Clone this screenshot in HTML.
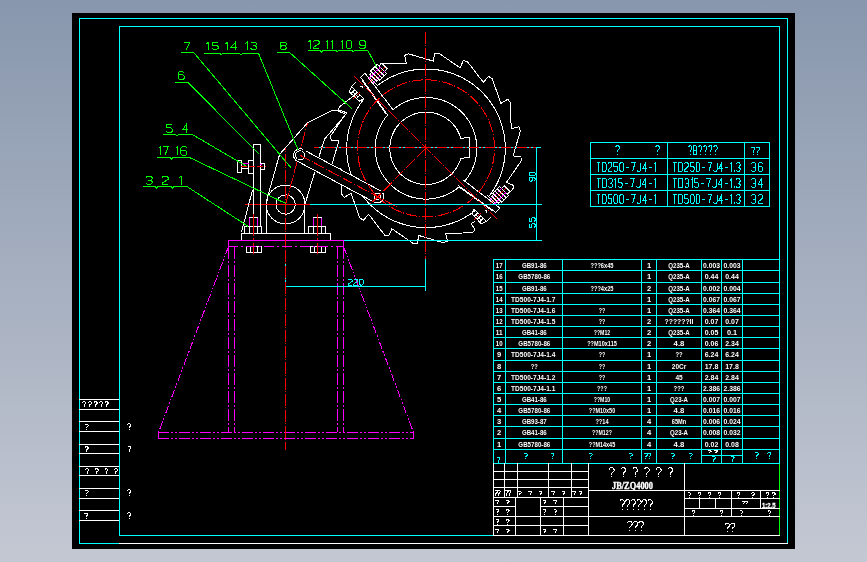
<!DOCTYPE html>
<html><head><meta charset="utf-8"><title>drawing</title>
<style>
html,body{margin:0;padding:0;}
body{width:867px;height:562px;overflow:hidden;background:linear-gradient(to bottom,#8897ad 0%,#c4c8d3 100%);}
svg{display:block;position:absolute;left:0;top:0;will-change:transform;}
text{font-family:"Liberation Sans",sans-serif;}
.sf{font-family:"Liberation Serif",serif;}
</style></head><body>
<svg width="867" height="562" viewBox="0 0 867 562" shape-rendering="crispEdges" stroke-width="1" fill="none">
<rect x="72" y="13" width="723" height="535.6" fill="#000" stroke="none"/>
<line x1="79.00" y1="18.50" x2="788.00" y2="18.50" stroke="#00ffff" />
<line x1="79.50" y1="18.00" x2="79.50" y2="544.00" stroke="#00ffff" />
<line x1="787.50" y1="18.00" x2="787.50" y2="544.00" stroke="#00ffff" />
<line x1="79.00" y1="543.50" x2="119.00" y2="543.50" stroke="#00ffff" />
<line x1="119.00" y1="543.50" x2="788.00" y2="543.50" stroke="#ffffff" />
<line x1="119.00" y1="26.50" x2="780.00" y2="26.50" stroke="#00ffff" />
<line x1="119.50" y1="26.00" x2="119.50" y2="536.00" stroke="#00ffff" />
<line x1="779.50" y1="26.00" x2="779.50" y2="463.00" stroke="#00ffff" />
<line x1="779.50" y1="463.00" x2="779.50" y2="536.00" stroke="#00ff00" />
<line x1="119.00" y1="535.50" x2="493.00" y2="535.50" stroke="#00ffff" />
<line x1="493.00" y1="535.50" x2="780.00" y2="535.50" stroke="#ffffff" />
<line x1="79.00" y1="399.50" x2="119.00" y2="399.50" stroke="#ffffff" />
<line x1="79.00" y1="409.50" x2="119.00" y2="409.50" stroke="#ffffff" />
<line x1="79.00" y1="421.50" x2="119.00" y2="421.50" stroke="#ffffff" />
<line x1="79.00" y1="431.50" x2="119.00" y2="431.50" stroke="#ffffff" />
<line x1="79.00" y1="444.50" x2="119.00" y2="444.50" stroke="#ffffff" />
<line x1="79.00" y1="453.50" x2="119.00" y2="453.50" stroke="#ffffff" />
<line x1="79.00" y1="466.50" x2="119.00" y2="466.50" stroke="#ffffff" />
<line x1="79.00" y1="475.50" x2="119.00" y2="475.50" stroke="#ffffff" />
<line x1="79.00" y1="488.50" x2="119.00" y2="488.50" stroke="#ffffff" />
<line x1="79.00" y1="498.50" x2="119.00" y2="498.50" stroke="#ffffff" />
<line x1="79.00" y1="510.50" x2="119.00" y2="510.50" stroke="#ffffff" />
<line x1="79.00" y1="520.50" x2="119.00" y2="520.50" stroke="#ffffff" />
<polyline points="82.50,402.67 83.35,401.80 85.05,401.80 85.90,402.67 85.90,403.53 84.20,404.83 84.20,405.61" stroke="#ffffff" fill="none" />
<polyline points="84.20,406.48 84.20,407.00" stroke="#ffffff" fill="none" />
<polyline points="88.10,402.67 88.95,401.80 90.65,401.80 91.50,402.67 91.50,403.53 89.80,404.83 89.80,405.61" stroke="#ffffff" fill="none" />
<polyline points="89.80,406.48 89.80,407.00" stroke="#ffffff" fill="none" />
<polyline points="93.70,402.67 94.55,401.80 96.25,401.80 97.10,402.67 97.10,403.53 95.40,404.83 95.40,405.61" stroke="#ffffff" fill="none" />
<polyline points="95.40,406.48 95.40,407.00" stroke="#ffffff" fill="none" />
<polyline points="99.30,402.67 100.15,401.80 101.85,401.80 102.70,402.67 102.70,403.53 101.00,404.83 101.00,405.61" stroke="#ffffff" fill="none" />
<polyline points="101.00,406.48 101.00,407.00" stroke="#ffffff" fill="none" />
<polyline points="104.90,402.67 105.75,401.80 107.45,401.80 108.30,402.67 108.30,403.53 106.60,404.83 106.60,405.61" stroke="#ffffff" fill="none" />
<polyline points="106.60,406.48 106.60,407.00" stroke="#ffffff" fill="none" />
<polyline points="85.00,425.17 85.75,424.30 87.25,424.30 88.00,425.17 88.00,426.03 86.50,427.33 86.50,428.11" stroke="#ffffff" fill="none" />
<polyline points="86.50,428.98 86.50,429.50" stroke="#ffffff" fill="none" />
<polyline points="85.00,447.67 85.75,446.80 87.25,446.80 88.00,447.67 88.00,448.53 86.50,449.83 86.50,450.61" stroke="#ffffff" fill="none" />
<polyline points="86.50,451.48 86.50,452.00" stroke="#ffffff" fill="none" />
<polyline points="85.00,491.17 85.75,490.30 87.25,490.30 88.00,491.17 88.00,492.03 86.50,493.33 86.50,494.11" stroke="#ffffff" fill="none" />
<polyline points="86.50,494.98 86.50,495.50" stroke="#ffffff" fill="none" />
<polyline points="84.50,514.17 85.25,513.30 86.75,513.30 87.50,514.17 87.50,515.03 86.00,516.33 86.00,517.11" stroke="#ffffff" fill="none" />
<polyline points="86.00,517.98 86.00,518.50" stroke="#ffffff" fill="none" />
<polyline points="85.50,469.67 86.30,468.80 87.90,468.80 88.70,469.67 88.70,470.53 87.10,471.83 87.10,472.61" stroke="#ffffff" fill="none" />
<polyline points="87.10,473.48 87.10,474.00" stroke="#ffffff" fill="none" />
<polyline points="95.10,469.67 95.90,468.80 97.50,468.80 98.30,469.67 98.30,470.53 96.70,471.83 96.70,472.61" stroke="#ffffff" fill="none" />
<polyline points="96.70,473.48 96.70,474.00" stroke="#ffffff" fill="none" />
<polyline points="104.70,469.67 105.50,468.80 107.10,468.80 107.90,469.67 107.90,470.53 106.30,471.83 106.30,472.61" stroke="#ffffff" fill="none" />
<polyline points="106.30,473.48 106.30,474.00" stroke="#ffffff" fill="none" />
<polyline points="114.30,469.67 115.10,468.80 116.70,468.80 117.50,469.67 117.50,470.53 115.90,471.83 115.90,472.61" stroke="#ffffff" fill="none" />
<polyline points="115.90,473.48 115.90,474.00" stroke="#ffffff" fill="none" />
<polyline points="127.50,424.83 128.30,423.90 129.90,423.90 130.70,424.83 130.70,425.77 129.10,427.17 129.10,428.01" stroke="#ffffff" fill="none" />
<polyline points="129.10,428.94 129.10,429.50" stroke="#ffffff" fill="none" />
<polyline points="127.50,447.33 128.30,446.40 129.90,446.40 130.70,447.33 130.70,448.27 129.10,449.67 129.10,450.51" stroke="#ffffff" fill="none" />
<polyline points="129.10,451.44 129.10,452.00" stroke="#ffffff" fill="none" />
<polyline points="127.50,490.83 128.30,489.90 129.90,489.90 130.70,490.83 130.70,491.77 129.10,493.17 129.10,494.01" stroke="#ffffff" fill="none" />
<polyline points="129.10,494.94 129.10,495.50" stroke="#ffffff" fill="none" />
<polyline points="127.50,513.83 128.30,512.90 129.90,512.90 130.70,513.83 130.70,514.77 129.10,516.17 129.10,517.01" stroke="#ffffff" fill="none" />
<polyline points="129.10,517.94 129.10,518.50" stroke="#ffffff" fill="none" />
<line x1="590.00" y1="142.50" x2="770.00" y2="142.50" stroke="#00ffff" />
<line x1="590.00" y1="158.50" x2="770.00" y2="158.50" stroke="#00ffff" />
<line x1="590.00" y1="174.50" x2="770.00" y2="174.50" stroke="#00ffff" />
<line x1="590.00" y1="190.50" x2="770.00" y2="190.50" stroke="#00ffff" />
<line x1="590.00" y1="206.50" x2="770.00" y2="206.50" stroke="#00ffff" />
<line x1="590.50" y1="142.00" x2="590.50" y2="207.00" stroke="#00ffff" />
<line x1="667.50" y1="142.00" x2="667.50" y2="207.00" stroke="#00ffff" />
<line x1="744.50" y1="142.00" x2="744.50" y2="207.00" stroke="#00ffff" />
<line x1="769.50" y1="142.00" x2="769.50" y2="207.00" stroke="#00ffff" />
<polyline points="615.50,147.25 616.50,145.80 618.50,145.80 619.50,147.25 619.50,148.70 617.50,150.88 617.50,152.18" stroke="#00ffff" fill="none" />
<polyline points="617.50,153.63 617.50,154.50" stroke="#00ffff" fill="none" />
<polyline points="655.50,147.25 656.50,145.80 658.50,145.80 659.50,147.25 659.50,148.70 657.50,150.88 657.50,152.18" stroke="#00ffff" fill="none" />
<polyline points="657.50,153.63 657.50,154.50" stroke="#00ffff" fill="none" />
<polyline points="688.50,147.25 689.34,145.80 691.01,145.80 691.85,147.25 691.85,148.70 690.18,150.88 690.18,152.18" stroke="#00ffff" fill="none" />
<polyline points="690.18,153.63 690.18,154.50" stroke="#00ffff" fill="none" />
<polyline points="693.53,154.50 693.53,145.80 696.04,145.80 696.88,147.25 696.88,148.70 696.04,150.15 693.53,150.15" stroke="#00ffff" fill="none" />
<polyline points="696.04,150.15 696.88,151.60 696.88,153.05 696.04,154.50 693.53,154.50" stroke="#00ffff" fill="none" />
<polyline points="698.56,147.25 699.40,145.80 701.07,145.80 701.91,147.25 701.91,148.70 700.24,150.88 700.24,152.18" stroke="#00ffff" fill="none" />
<polyline points="700.24,153.63 700.24,154.50" stroke="#00ffff" fill="none" />
<polyline points="703.59,147.25 704.43,145.80 706.10,145.80 706.94,147.25 706.94,148.70 705.26,150.88 705.26,152.18" stroke="#00ffff" fill="none" />
<polyline points="705.26,153.63 705.26,154.50" stroke="#00ffff" fill="none" />
<polyline points="708.62,147.25 709.46,145.80 711.13,145.80 711.97,147.25 711.97,148.70 710.29,150.88 710.29,152.18" stroke="#00ffff" fill="none" />
<polyline points="710.29,153.63 710.29,154.50" stroke="#00ffff" fill="none" />
<polyline points="713.65,147.25 714.49,145.80 716.16,145.80 717.00,147.25 717.00,148.70 715.32,150.88 715.32,152.18" stroke="#00ffff" fill="none" />
<polyline points="715.32,153.63 715.32,154.50" stroke="#00ffff" fill="none" />
<polyline points="751.50,148.25 752.30,147.00 753.90,147.00 754.70,148.25 754.70,149.50 753.10,151.38 753.10,152.50" stroke="#00ffff" fill="none" />
<polyline points="753.10,153.75 753.10,154.50" stroke="#00ffff" fill="none" />
<polyline points="756.30,148.25 757.10,147.00 758.70,147.00 759.50,148.25 759.50,149.50 757.90,151.38 757.90,152.50" stroke="#00ffff" fill="none" />
<polyline points="757.90,153.75 757.90,154.50" stroke="#00ffff" fill="none" />
<polyline points="596.50,162.50 600.36,162.50" stroke="#00ffff" fill="none" />
<polyline points="598.43,162.50 598.43,171.50" stroke="#00ffff" fill="none" />
<polyline points="602.29,171.50 602.29,162.50 605.18,162.50 606.14,164.00 606.14,170.00 605.18,171.50 602.29,171.50" stroke="#00ffff" fill="none" />
<polyline points="608.07,164.00 609.04,162.50 610.97,162.50 611.93,164.00 611.93,166.10 608.07,170.00 608.07,171.50 611.93,171.50" stroke="#00ffff" fill="none" />
<polyline points="617.72,162.50 613.86,162.50 613.86,166.25 616.75,166.25 617.72,167.75 617.72,170.00 616.75,171.50 614.82,171.50 613.86,170.00" stroke="#00ffff" fill="none" />
<polyline points="619.64,170.00 619.64,164.00 620.61,162.50 622.54,162.50 623.50,164.00 623.50,170.00 622.54,171.50 620.61,171.50 619.64,170.00" stroke="#00ffff" fill="none" />
<polyline points="625.72,167.00 629.00,167.00" stroke="#00ffff" fill="none" />
<polyline points="631.22,162.50 635.07,162.50 632.66,171.50" stroke="#00ffff" fill="none" />
<polyline points="640.86,162.50 640.86,170.00 639.90,171.50 637.97,171.50 637.00,170.00" stroke="#00ffff" fill="none" />
<polyline points="645.68,171.50 645.68,162.50 642.79,168.50 646.65,168.50" stroke="#00ffff" fill="none" />
<polyline points="648.86,167.00 652.14,167.00" stroke="#00ffff" fill="none" />
<polyline points="654.36,164.30 655.71,162.50 655.71,171.50" stroke="#00ffff" fill="none" />
<polyline points="673.00,162.50 676.83,162.50" stroke="#00ffff" fill="none" />
<polyline points="674.92,162.50 674.92,171.50" stroke="#00ffff" fill="none" />
<polyline points="678.75,171.50 678.75,162.50 681.63,162.50 682.59,164.00 682.59,170.00 681.63,171.50 678.75,171.50" stroke="#00ffff" fill="none" />
<polyline points="684.50,164.00 685.46,162.50 687.38,162.50 688.34,164.00 688.34,166.10 684.50,170.00 684.50,171.50 688.34,171.50" stroke="#00ffff" fill="none" />
<polyline points="694.09,162.50 690.25,162.50 690.25,166.25 693.13,166.25 694.09,167.75 694.09,170.00 693.13,171.50 691.21,171.50 690.25,170.00" stroke="#00ffff" fill="none" />
<polyline points="696.00,170.00 696.00,164.00 696.96,162.50 698.88,162.50 699.84,164.00 699.84,170.00 698.88,171.50 696.96,171.50 696.00,170.00" stroke="#00ffff" fill="none" />
<polyline points="702.04,167.00 705.30,167.00" stroke="#00ffff" fill="none" />
<polyline points="707.51,162.50 711.34,162.50 708.94,171.50" stroke="#00ffff" fill="none" />
<polyline points="717.09,162.50 717.09,170.00 716.13,171.50 714.22,171.50 713.26,170.00" stroke="#00ffff" fill="none" />
<polyline points="721.88,171.50 721.88,162.50 719.01,168.50 722.84,168.50" stroke="#00ffff" fill="none" />
<polyline points="725.05,167.00 728.31,167.00" stroke="#00ffff" fill="none" />
<polyline points="730.51,164.30 731.85,162.50 731.85,171.50" stroke="#00ffff" fill="none" />
<polyline points="734.34,171.50 734.34,170.45" stroke="#00ffff" fill="none" />
<polyline points="736.17,164.00 737.12,162.50 739.04,162.50 740.00,164.00 740.00,165.50 739.04,167.00 737.60,167.00" stroke="#00ffff" fill="none" />
<polyline points="739.04,167.00 740.00,168.50 740.00,170.00 739.04,171.50 737.12,171.50 736.17,170.00" stroke="#00ffff" fill="none" />
<polyline points="751.50,164.00 752.60,162.50 754.80,162.50 755.90,164.00 755.90,165.50 754.80,167.00 753.15,167.00" stroke="#00ffff" fill="none" />
<polyline points="754.80,167.00 755.90,168.50 755.90,170.00 754.80,171.50 752.60,171.50 751.50,170.00" stroke="#00ffff" fill="none" />
<polyline points="762.50,164.00 761.40,162.50 759.20,162.50 758.10,164.00 758.10,170.00 759.20,171.50 761.40,171.50 762.50,170.00 762.50,167.75 761.40,166.25 758.10,166.25" stroke="#00ffff" fill="none" />
<polyline points="596.50,178.50 600.51,178.50" stroke="#00ffff" fill="none" />
<polyline points="598.50,178.50 598.50,187.50" stroke="#00ffff" fill="none" />
<polyline points="602.51,187.50 602.51,178.50 605.52,178.50 606.52,180.00 606.52,186.00 605.52,187.50 602.51,187.50" stroke="#00ffff" fill="none" />
<polyline points="608.52,180.00 609.52,178.50 611.53,178.50 612.53,180.00 612.53,181.50 611.53,183.00 610.02,183.00" stroke="#00ffff" fill="none" />
<polyline points="611.53,183.00 612.53,184.50 612.53,186.00 611.53,187.50 609.52,187.50 608.52,186.00" stroke="#00ffff" fill="none" />
<polyline points="614.53,180.30 615.93,178.50 615.93,187.50" stroke="#00ffff" fill="none" />
<polyline points="622.24,178.50 618.24,178.50 618.24,182.25 621.24,182.25 622.24,183.75 622.24,186.00 621.24,187.50 619.24,187.50 618.24,186.00" stroke="#00ffff" fill="none" />
<polyline points="624.55,183.00 627.95,183.00" stroke="#00ffff" fill="none" />
<polyline points="630.26,178.50 634.26,178.50 631.76,187.50" stroke="#00ffff" fill="none" />
<polyline points="640.27,178.50 640.27,186.00 639.27,187.50 637.27,187.50 636.27,186.00" stroke="#00ffff" fill="none" />
<polyline points="645.28,187.50 645.28,178.50 642.28,184.50 646.28,184.50" stroke="#00ffff" fill="none" />
<polyline points="648.59,183.00 651.99,183.00" stroke="#00ffff" fill="none" />
<polyline points="654.30,180.30 655.70,178.50 655.70,187.50" stroke="#00ffff" fill="none" />
<polyline points="673.00,178.50 676.96,178.50" stroke="#00ffff" fill="none" />
<polyline points="674.98,178.50 674.98,187.50" stroke="#00ffff" fill="none" />
<polyline points="678.95,187.50 678.95,178.50 681.92,178.50 682.91,180.00 682.91,186.00 681.92,187.50 678.95,187.50" stroke="#00ffff" fill="none" />
<polyline points="684.89,180.00 685.88,178.50 687.87,178.50 688.86,180.00 688.86,181.50 687.87,183.00 686.38,183.00" stroke="#00ffff" fill="none" />
<polyline points="687.87,183.00 688.86,184.50 688.86,186.00 687.87,187.50 685.88,187.50 684.89,186.00" stroke="#00ffff" fill="none" />
<polyline points="690.84,180.30 692.23,178.50 692.23,187.50" stroke="#00ffff" fill="none" />
<polyline points="698.47,178.50 694.51,178.50 694.51,182.25 697.48,182.25 698.47,183.75 698.47,186.00 697.48,187.50 695.50,187.50 694.51,186.00" stroke="#00ffff" fill="none" />
<polyline points="700.75,183.00 704.12,183.00" stroke="#00ffff" fill="none" />
<polyline points="706.40,178.50 710.37,178.50 707.89,187.50" stroke="#00ffff" fill="none" />
<polyline points="716.31,178.50 716.31,186.00 715.32,187.50 713.34,187.50 712.35,186.00" stroke="#00ffff" fill="none" />
<polyline points="721.27,187.50 721.27,178.50 718.29,184.50 722.26,184.50" stroke="#00ffff" fill="none" />
<polyline points="724.54,183.00 727.91,183.00" stroke="#00ffff" fill="none" />
<polyline points="730.19,180.30 731.58,178.50 731.58,187.50" stroke="#00ffff" fill="none" />
<polyline points="734.15,187.50 734.15,186.45" stroke="#00ffff" fill="none" />
<polyline points="736.04,180.00 737.03,178.50 739.01,178.50 740.00,180.00 740.00,181.50 739.01,183.00 737.52,183.00" stroke="#00ffff" fill="none" />
<polyline points="739.01,183.00 740.00,184.50 740.00,186.00 739.01,187.50 737.03,187.50 736.04,186.00" stroke="#00ffff" fill="none" />
<polyline points="751.50,180.00 752.60,178.50 754.80,178.50 755.90,180.00 755.90,181.50 754.80,183.00 753.15,183.00" stroke="#00ffff" fill="none" />
<polyline points="754.80,183.00 755.90,184.50 755.90,186.00 754.80,187.50 752.60,187.50 751.50,186.00" stroke="#00ffff" fill="none" />
<polyline points="761.40,187.50 761.40,178.50 758.10,184.50 762.50,184.50" stroke="#00ffff" fill="none" />
<polyline points="596.50,194.50 600.36,194.50" stroke="#00ffff" fill="none" />
<polyline points="598.43,194.50 598.43,203.50" stroke="#00ffff" fill="none" />
<polyline points="602.29,203.50 602.29,194.50 605.18,194.50 606.14,196.00 606.14,202.00 605.18,203.50 602.29,203.50" stroke="#00ffff" fill="none" />
<polyline points="611.93,194.50 608.07,194.50 608.07,198.25 610.97,198.25 611.93,199.75 611.93,202.00 610.97,203.50 609.04,203.50 608.07,202.00" stroke="#00ffff" fill="none" />
<polyline points="613.86,202.00 613.86,196.00 614.82,194.50 616.75,194.50 617.72,196.00 617.72,202.00 616.75,203.50 614.82,203.50 613.86,202.00" stroke="#00ffff" fill="none" />
<polyline points="619.64,202.00 619.64,196.00 620.61,194.50 622.54,194.50 623.50,196.00 623.50,202.00 622.54,203.50 620.61,203.50 619.64,202.00" stroke="#00ffff" fill="none" />
<polyline points="625.72,199.00 629.00,199.00" stroke="#00ffff" fill="none" />
<polyline points="631.22,194.50 635.07,194.50 632.66,203.50" stroke="#00ffff" fill="none" />
<polyline points="640.86,194.50 640.86,202.00 639.90,203.50 637.97,203.50 637.00,202.00" stroke="#00ffff" fill="none" />
<polyline points="645.68,203.50 645.68,194.50 642.79,200.50 646.65,200.50" stroke="#00ffff" fill="none" />
<polyline points="648.86,199.00 652.14,199.00" stroke="#00ffff" fill="none" />
<polyline points="654.36,196.30 655.71,194.50 655.71,203.50" stroke="#00ffff" fill="none" />
<polyline points="673.00,194.50 676.83,194.50" stroke="#00ffff" fill="none" />
<polyline points="674.92,194.50 674.92,203.50" stroke="#00ffff" fill="none" />
<polyline points="678.75,203.50 678.75,194.50 681.63,194.50 682.59,196.00 682.59,202.00 681.63,203.50 678.75,203.50" stroke="#00ffff" fill="none" />
<polyline points="688.34,194.50 684.50,194.50 684.50,198.25 687.38,198.25 688.34,199.75 688.34,202.00 687.38,203.50 685.46,203.50 684.50,202.00" stroke="#00ffff" fill="none" />
<polyline points="690.25,202.00 690.25,196.00 691.21,194.50 693.13,194.50 694.09,196.00 694.09,202.00 693.13,203.50 691.21,203.50 690.25,202.00" stroke="#00ffff" fill="none" />
<polyline points="696.00,202.00 696.00,196.00 696.96,194.50 698.88,194.50 699.84,196.00 699.84,202.00 698.88,203.50 696.96,203.50 696.00,202.00" stroke="#00ffff" fill="none" />
<polyline points="702.04,199.00 705.30,199.00" stroke="#00ffff" fill="none" />
<polyline points="707.51,194.50 711.34,194.50 708.94,203.50" stroke="#00ffff" fill="none" />
<polyline points="717.09,194.50 717.09,202.00 716.13,203.50 714.22,203.50 713.26,202.00" stroke="#00ffff" fill="none" />
<polyline points="721.88,203.50 721.88,194.50 719.01,200.50 722.84,200.50" stroke="#00ffff" fill="none" />
<polyline points="725.05,199.00 728.31,199.00" stroke="#00ffff" fill="none" />
<polyline points="730.51,196.30 731.85,194.50 731.85,203.50" stroke="#00ffff" fill="none" />
<polyline points="734.34,203.50 734.34,202.45" stroke="#00ffff" fill="none" />
<polyline points="736.17,196.00 737.12,194.50 739.04,194.50 740.00,196.00 740.00,197.50 739.04,199.00 737.60,199.00" stroke="#00ffff" fill="none" />
<polyline points="739.04,199.00 740.00,200.50 740.00,202.00 739.04,203.50 737.12,203.50 736.17,202.00" stroke="#00ffff" fill="none" />
<polyline points="751.50,196.00 752.60,194.50 754.80,194.50 755.90,196.00 755.90,197.50 754.80,199.00 753.15,199.00" stroke="#00ffff" fill="none" />
<polyline points="754.80,199.00 755.90,200.50 755.90,202.00 754.80,203.50 752.60,203.50 751.50,202.00" stroke="#00ffff" fill="none" />
<polyline points="758.10,196.00 759.20,194.50 761.40,194.50 762.50,196.00 762.50,198.10 758.10,202.00 758.10,203.50 762.50,203.50" stroke="#00ffff" fill="none" />
<line x1="493.00" y1="259.50" x2="780.00" y2="259.50" stroke="#00ffff" />
<line x1="493.00" y1="270.50" x2="780.00" y2="270.50" stroke="#00ffff" />
<line x1="493.00" y1="282.50" x2="780.00" y2="282.50" stroke="#00ffff" />
<line x1="493.00" y1="293.50" x2="780.00" y2="293.50" stroke="#00ffff" />
<line x1="493.00" y1="304.50" x2="780.00" y2="304.50" stroke="#00ffff" />
<line x1="493.00" y1="315.50" x2="780.00" y2="315.50" stroke="#00ffff" />
<line x1="493.00" y1="326.50" x2="780.00" y2="326.50" stroke="#00ffff" />
<line x1="493.00" y1="337.50" x2="780.00" y2="337.50" stroke="#00ffff" />
<line x1="493.00" y1="348.50" x2="780.00" y2="348.50" stroke="#00ffff" />
<line x1="493.00" y1="360.50" x2="780.00" y2="360.50" stroke="#00ffff" />
<line x1="493.00" y1="371.50" x2="780.00" y2="371.50" stroke="#00ffff" />
<line x1="493.00" y1="382.50" x2="780.00" y2="382.50" stroke="#00ffff" />
<line x1="493.00" y1="393.50" x2="780.00" y2="393.50" stroke="#00ffff" />
<line x1="493.00" y1="404.50" x2="780.00" y2="404.50" stroke="#00ffff" />
<line x1="493.00" y1="415.50" x2="780.00" y2="415.50" stroke="#00ffff" />
<line x1="493.00" y1="426.50" x2="780.00" y2="426.50" stroke="#00ffff" />
<line x1="493.00" y1="438.50" x2="780.00" y2="438.50" stroke="#00ffff" />
<line x1="493.00" y1="449.50" x2="780.00" y2="449.50" stroke="#00ffff" />
<line x1="493.00" y1="463.50" x2="780.00" y2="463.50" stroke="#00ffff" />
<line x1="493.50" y1="259.00" x2="493.50" y2="464.00" stroke="#00ffff" />
<line x1="505.50" y1="259.00" x2="505.50" y2="464.00" stroke="#00ffff" />
<line x1="562.50" y1="259.00" x2="562.50" y2="464.00" stroke="#00ffff" />
<line x1="641.50" y1="259.00" x2="641.50" y2="464.00" stroke="#00ffff" />
<line x1="656.50" y1="259.00" x2="656.50" y2="464.00" stroke="#00ffff" />
<line x1="701.50" y1="259.00" x2="701.50" y2="464.00" stroke="#00ffff" />
<line x1="721.50" y1="259.00" x2="721.50" y2="464.00" stroke="#00ffff" />
<line x1="742.50" y1="259.00" x2="742.50" y2="464.00" stroke="#00ffff" />
<line x1="701.00" y1="455.50" x2="742.00" y2="455.50" stroke="#00ffff" />
<text x="499.20" y="268.00" fill="#ffffff" font-size="7.6" text-anchor="middle" textLength="6.8" lengthAdjust="spacingAndGlyphs" font-weight="bold" >17</text>
<text x="534.30" y="268.00" fill="#ffffff" font-size="7.6" text-anchor="middle" textLength="24.8" lengthAdjust="spacingAndGlyphs" font-weight="bold" >GB91-86</text>
<text x="602.00" y="268.00" fill="#ffffff" font-size="7.6" text-anchor="middle" textLength="23.1" lengthAdjust="spacingAndGlyphs" font-weight="bold" >???6x45</text>
<text x="649.00" y="268.00" fill="#ffffff" font-size="7.6" text-anchor="middle" font-weight="bold" >1</text>
<text x="679.00" y="268.00" fill="#ffffff" font-size="7.6" text-anchor="middle" textLength="21.6" lengthAdjust="spacingAndGlyphs" font-weight="bold" >Q235-A</text>
<text x="711.50" y="268.00" fill="#ffffff" font-size="7.6" text-anchor="middle" textLength="17.0" lengthAdjust="spacingAndGlyphs" font-weight="bold" >0.003</text>
<text x="732.00" y="268.00" fill="#ffffff" font-size="7.6" text-anchor="middle" textLength="17.0" lengthAdjust="spacingAndGlyphs" font-weight="bold" >0.003</text>
<text x="499.20" y="279.00" fill="#ffffff" font-size="7.6" text-anchor="middle" textLength="6.8" lengthAdjust="spacingAndGlyphs" font-weight="bold" >16</text>
<text x="534.30" y="279.00" fill="#ffffff" font-size="7.6" text-anchor="middle" textLength="31.9" lengthAdjust="spacingAndGlyphs" font-weight="bold" >GB5780-86</text>
<text x="649.00" y="279.00" fill="#ffffff" font-size="7.6" text-anchor="middle" font-weight="bold" >1</text>
<text x="679.00" y="279.00" fill="#ffffff" font-size="7.6" text-anchor="middle" textLength="21.6" lengthAdjust="spacingAndGlyphs" font-weight="bold" >Q235-A</text>
<text x="711.50" y="279.00" fill="#ffffff" font-size="7.6" text-anchor="middle" textLength="13.6" lengthAdjust="spacingAndGlyphs" font-weight="bold" >0.44</text>
<text x="732.00" y="279.00" fill="#ffffff" font-size="7.6" text-anchor="middle" textLength="13.6" lengthAdjust="spacingAndGlyphs" font-weight="bold" >0.44</text>
<text x="499.20" y="291.00" fill="#ffffff" font-size="7.6" text-anchor="middle" textLength="6.8" lengthAdjust="spacingAndGlyphs" font-weight="bold" >15</text>
<text x="534.30" y="291.00" fill="#ffffff" font-size="7.6" text-anchor="middle" textLength="24.8" lengthAdjust="spacingAndGlyphs" font-weight="bold" >GB91-86</text>
<text x="602.00" y="291.00" fill="#ffffff" font-size="7.6" text-anchor="middle" textLength="23.1" lengthAdjust="spacingAndGlyphs" font-weight="bold" >???4x25</text>
<text x="649.00" y="291.00" fill="#ffffff" font-size="7.6" text-anchor="middle" font-weight="bold" >2</text>
<text x="679.00" y="291.00" fill="#ffffff" font-size="7.6" text-anchor="middle" textLength="21.6" lengthAdjust="spacingAndGlyphs" font-weight="bold" >Q235-A</text>
<text x="711.50" y="291.00" fill="#ffffff" font-size="7.6" text-anchor="middle" textLength="17.0" lengthAdjust="spacingAndGlyphs" font-weight="bold" >0.002</text>
<text x="732.00" y="291.00" fill="#ffffff" font-size="7.6" text-anchor="middle" textLength="17.0" lengthAdjust="spacingAndGlyphs" font-weight="bold" >0.004</text>
<text x="499.20" y="302.00" fill="#ffffff" font-size="7.6" text-anchor="middle" textLength="6.8" lengthAdjust="spacingAndGlyphs" font-weight="bold" >14</text>
<text x="533.20" y="302.00" fill="#ffffff" font-size="7.6" text-anchor="middle" textLength="44.3" lengthAdjust="spacingAndGlyphs" font-weight="bold" >TD500-7J4-1.7</text>
<text x="649.00" y="302.00" fill="#ffffff" font-size="7.6" text-anchor="middle" font-weight="bold" >1</text>
<text x="679.00" y="302.00" fill="#ffffff" font-size="7.6" text-anchor="middle" textLength="21.6" lengthAdjust="spacingAndGlyphs" font-weight="bold" >Q235-A</text>
<text x="711.50" y="302.00" fill="#ffffff" font-size="7.6" text-anchor="middle" textLength="17.0" lengthAdjust="spacingAndGlyphs" font-weight="bold" >0.067</text>
<text x="732.00" y="302.00" fill="#ffffff" font-size="7.6" text-anchor="middle" textLength="17.0" lengthAdjust="spacingAndGlyphs" font-weight="bold" >0.067</text>
<text x="499.20" y="313.00" fill="#ffffff" font-size="7.6" text-anchor="middle" textLength="6.8" lengthAdjust="spacingAndGlyphs" font-weight="bold" >13</text>
<text x="533.20" y="313.00" fill="#ffffff" font-size="7.6" text-anchor="middle" textLength="44.3" lengthAdjust="spacingAndGlyphs" font-weight="bold" >TD500-7J4-1.6</text>
<text x="602.00" y="313.00" fill="#ffffff" font-size="7.6" text-anchor="middle" textLength="6.6" lengthAdjust="spacingAndGlyphs" font-weight="bold" >??</text>
<text x="649.00" y="313.00" fill="#ffffff" font-size="7.6" text-anchor="middle" font-weight="bold" >1</text>
<text x="679.00" y="313.00" fill="#ffffff" font-size="7.6" text-anchor="middle" textLength="21.6" lengthAdjust="spacingAndGlyphs" font-weight="bold" >Q235-A</text>
<text x="711.50" y="313.00" fill="#ffffff" font-size="7.6" text-anchor="middle" textLength="17.0" lengthAdjust="spacingAndGlyphs" font-weight="bold" >0.364</text>
<text x="732.00" y="313.00" fill="#ffffff" font-size="7.6" text-anchor="middle" textLength="17.0" lengthAdjust="spacingAndGlyphs" font-weight="bold" >0.364</text>
<text x="499.20" y="324.00" fill="#ffffff" font-size="7.6" text-anchor="middle" textLength="6.8" lengthAdjust="spacingAndGlyphs" font-weight="bold" >12</text>
<text x="533.20" y="324.00" fill="#ffffff" font-size="7.6" text-anchor="middle" textLength="44.3" lengthAdjust="spacingAndGlyphs" font-weight="bold" >TD500-7J4-1.5</text>
<text x="602.00" y="324.00" fill="#ffffff" font-size="7.6" text-anchor="middle" textLength="6.6" lengthAdjust="spacingAndGlyphs" font-weight="bold" >??</text>
<text x="649.00" y="324.00" fill="#ffffff" font-size="7.6" text-anchor="middle" font-weight="bold" >2</text>
<text x="679.00" y="324.00" fill="#ffffff" font-size="7.6" text-anchor="middle" textLength="28.8" lengthAdjust="spacingAndGlyphs" font-weight="bold" >??????II</text>
<text x="711.50" y="324.00" fill="#ffffff" font-size="7.6" text-anchor="middle" textLength="13.6" lengthAdjust="spacingAndGlyphs" font-weight="bold" >0.07</text>
<text x="732.00" y="324.00" fill="#ffffff" font-size="7.6" text-anchor="middle" textLength="13.6" lengthAdjust="spacingAndGlyphs" font-weight="bold" >0.07</text>
<text x="499.20" y="335.00" fill="#ffffff" font-size="7.6" text-anchor="middle" textLength="6.8" lengthAdjust="spacingAndGlyphs" font-weight="bold" >11</text>
<text x="534.30" y="335.00" fill="#ffffff" font-size="7.6" text-anchor="middle" textLength="24.8" lengthAdjust="spacingAndGlyphs" font-weight="bold" >GB41-86</text>
<text x="602.00" y="335.00" fill="#ffffff" font-size="7.6" text-anchor="middle" textLength="16.5" lengthAdjust="spacingAndGlyphs" font-weight="bold" >??M12</text>
<text x="649.00" y="335.00" fill="#ffffff" font-size="7.6" text-anchor="middle" font-weight="bold" >2</text>
<text x="679.00" y="335.00" fill="#ffffff" font-size="7.6" text-anchor="middle" textLength="21.6" lengthAdjust="spacingAndGlyphs" font-weight="bold" >Q235-A</text>
<text x="711.50" y="335.00" fill="#ffffff" font-size="7.6" text-anchor="middle" textLength="13.6" lengthAdjust="spacingAndGlyphs" font-weight="bold" >0.05</text>
<text x="732.00" y="335.00" fill="#ffffff" font-size="7.6" text-anchor="middle" textLength="10.2" lengthAdjust="spacingAndGlyphs" font-weight="bold" >0.1</text>
<text x="499.20" y="346.00" fill="#ffffff" font-size="7.6" text-anchor="middle" textLength="6.8" lengthAdjust="spacingAndGlyphs" font-weight="bold" >10</text>
<text x="534.30" y="346.00" fill="#ffffff" font-size="7.6" text-anchor="middle" textLength="31.9" lengthAdjust="spacingAndGlyphs" font-weight="bold" >GB5780-86</text>
<text x="602.00" y="346.00" fill="#ffffff" font-size="7.6" text-anchor="middle" textLength="29.7" lengthAdjust="spacingAndGlyphs" font-weight="bold" >??M10x115</text>
<text x="649.00" y="346.00" fill="#ffffff" font-size="7.6" text-anchor="middle" font-weight="bold" >2</text>
<text x="679.00" y="346.00" fill="#ffffff" font-size="7.6" text-anchor="middle" textLength="10.8" lengthAdjust="spacingAndGlyphs" font-weight="bold" >4.8</text>
<text x="711.50" y="346.00" fill="#ffffff" font-size="7.6" text-anchor="middle" textLength="13.6" lengthAdjust="spacingAndGlyphs" font-weight="bold" >0.06</text>
<text x="732.00" y="346.00" fill="#ffffff" font-size="7.6" text-anchor="middle" textLength="13.6" lengthAdjust="spacingAndGlyphs" font-weight="bold" >2.34</text>
<text x="499.20" y="357.00" fill="#ffffff" font-size="7.6" text-anchor="middle" font-weight="bold" >9</text>
<text x="533.20" y="357.00" fill="#ffffff" font-size="7.6" text-anchor="middle" textLength="44.3" lengthAdjust="spacingAndGlyphs" font-weight="bold" >TD500-7J4-1.4</text>
<text x="602.00" y="357.00" fill="#ffffff" font-size="7.6" text-anchor="middle" textLength="6.6" lengthAdjust="spacingAndGlyphs" font-weight="bold" >??</text>
<text x="649.00" y="357.00" fill="#ffffff" font-size="7.6" text-anchor="middle" font-weight="bold" >1</text>
<text x="679.00" y="357.00" fill="#ffffff" font-size="7.6" text-anchor="middle" textLength="7.2" lengthAdjust="spacingAndGlyphs" font-weight="bold" >??</text>
<text x="711.50" y="357.00" fill="#ffffff" font-size="7.6" text-anchor="middle" textLength="13.6" lengthAdjust="spacingAndGlyphs" font-weight="bold" >6.24</text>
<text x="732.00" y="357.00" fill="#ffffff" font-size="7.6" text-anchor="middle" textLength="13.6" lengthAdjust="spacingAndGlyphs" font-weight="bold" >6.24</text>
<text x="499.20" y="369.00" fill="#ffffff" font-size="7.6" text-anchor="middle" font-weight="bold" >8</text>
<text x="534.30" y="369.00" fill="#ffffff" font-size="7.6" text-anchor="middle" textLength="7.1" lengthAdjust="spacingAndGlyphs" font-weight="bold" >??</text>
<text x="602.00" y="369.00" fill="#ffffff" font-size="7.6" text-anchor="middle" textLength="6.6" lengthAdjust="spacingAndGlyphs" font-weight="bold" >??</text>
<text x="649.00" y="369.00" fill="#ffffff" font-size="7.6" text-anchor="middle" font-weight="bold" >1</text>
<text x="679.00" y="369.00" fill="#ffffff" font-size="7.6" text-anchor="middle" textLength="14.4" lengthAdjust="spacingAndGlyphs" font-weight="bold" >20Cr</text>
<text x="711.50" y="369.00" fill="#ffffff" font-size="7.6" text-anchor="middle" textLength="13.6" lengthAdjust="spacingAndGlyphs" font-weight="bold" >17.8</text>
<text x="732.00" y="369.00" fill="#ffffff" font-size="7.6" text-anchor="middle" textLength="13.6" lengthAdjust="spacingAndGlyphs" font-weight="bold" >17.8</text>
<text x="499.20" y="380.00" fill="#ffffff" font-size="7.6" text-anchor="middle" font-weight="bold" >7</text>
<text x="533.20" y="380.00" fill="#ffffff" font-size="7.6" text-anchor="middle" textLength="44.3" lengthAdjust="spacingAndGlyphs" font-weight="bold" >TD500-7J4-1.2</text>
<text x="602.00" y="380.00" fill="#ffffff" font-size="7.6" text-anchor="middle" textLength="6.6" lengthAdjust="spacingAndGlyphs" font-weight="bold" >??</text>
<text x="649.00" y="380.00" fill="#ffffff" font-size="7.6" text-anchor="middle" font-weight="bold" >1</text>
<text x="679.00" y="380.00" fill="#ffffff" font-size="7.6" text-anchor="middle" textLength="7.2" lengthAdjust="spacingAndGlyphs" font-weight="bold" >45</text>
<text x="711.50" y="380.00" fill="#ffffff" font-size="7.6" text-anchor="middle" textLength="13.6" lengthAdjust="spacingAndGlyphs" font-weight="bold" >2.84</text>
<text x="732.00" y="380.00" fill="#ffffff" font-size="7.6" text-anchor="middle" textLength="13.6" lengthAdjust="spacingAndGlyphs" font-weight="bold" >2.84</text>
<text x="499.20" y="391.00" fill="#ffffff" font-size="7.6" text-anchor="middle" font-weight="bold" >6</text>
<text x="533.20" y="391.00" fill="#ffffff" font-size="7.6" text-anchor="middle" textLength="44.3" lengthAdjust="spacingAndGlyphs" font-weight="bold" >TD500-7J4-1.1</text>
<text x="602.00" y="391.00" fill="#ffffff" font-size="7.6" text-anchor="middle" textLength="9.9" lengthAdjust="spacingAndGlyphs" font-weight="bold" >???</text>
<text x="649.00" y="391.00" fill="#ffffff" font-size="7.6" text-anchor="middle" font-weight="bold" >1</text>
<text x="679.00" y="391.00" fill="#ffffff" font-size="7.6" text-anchor="middle" textLength="10.8" lengthAdjust="spacingAndGlyphs" font-weight="bold" >???</text>
<text x="711.50" y="391.00" fill="#ffffff" font-size="7.6" text-anchor="middle" textLength="17.0" lengthAdjust="spacingAndGlyphs" font-weight="bold" >2.386</text>
<text x="732.00" y="391.00" fill="#ffffff" font-size="7.6" text-anchor="middle" textLength="17.0" lengthAdjust="spacingAndGlyphs" font-weight="bold" >2.386</text>
<text x="499.20" y="402.00" fill="#ffffff" font-size="7.6" text-anchor="middle" font-weight="bold" >5</text>
<text x="534.30" y="402.00" fill="#ffffff" font-size="7.6" text-anchor="middle" textLength="24.8" lengthAdjust="spacingAndGlyphs" font-weight="bold" >GB41-86</text>
<text x="602.00" y="402.00" fill="#ffffff" font-size="7.6" text-anchor="middle" textLength="16.5" lengthAdjust="spacingAndGlyphs" font-weight="bold" >??M10</text>
<text x="649.00" y="402.00" fill="#ffffff" font-size="7.6" text-anchor="middle" font-weight="bold" >1</text>
<text x="679.00" y="402.00" fill="#ffffff" font-size="7.6" text-anchor="middle" textLength="18.0" lengthAdjust="spacingAndGlyphs" font-weight="bold" >Q23-A</text>
<text x="711.50" y="402.00" fill="#ffffff" font-size="7.6" text-anchor="middle" textLength="17.0" lengthAdjust="spacingAndGlyphs" font-weight="bold" >0.007</text>
<text x="732.00" y="402.00" fill="#ffffff" font-size="7.6" text-anchor="middle" textLength="17.0" lengthAdjust="spacingAndGlyphs" font-weight="bold" >0.007</text>
<text x="499.20" y="413.00" fill="#ffffff" font-size="7.6" text-anchor="middle" font-weight="bold" >4</text>
<text x="534.30" y="413.00" fill="#ffffff" font-size="7.6" text-anchor="middle" textLength="31.9" lengthAdjust="spacingAndGlyphs" font-weight="bold" >GB5780-86</text>
<text x="602.00" y="413.00" fill="#ffffff" font-size="7.6" text-anchor="middle" textLength="26.4" lengthAdjust="spacingAndGlyphs" font-weight="bold" >??M10x50</text>
<text x="649.00" y="413.00" fill="#ffffff" font-size="7.6" text-anchor="middle" font-weight="bold" >1</text>
<text x="679.00" y="413.00" fill="#ffffff" font-size="7.6" text-anchor="middle" textLength="10.8" lengthAdjust="spacingAndGlyphs" font-weight="bold" >4.8</text>
<text x="711.50" y="413.00" fill="#ffffff" font-size="7.6" text-anchor="middle" textLength="17.0" lengthAdjust="spacingAndGlyphs" font-weight="bold" >0.016</text>
<text x="732.00" y="413.00" fill="#ffffff" font-size="7.6" text-anchor="middle" textLength="17.0" lengthAdjust="spacingAndGlyphs" font-weight="bold" >0.016</text>
<text x="499.20" y="424.00" fill="#ffffff" font-size="7.6" text-anchor="middle" font-weight="bold" >3</text>
<text x="534.30" y="424.00" fill="#ffffff" font-size="7.6" text-anchor="middle" textLength="24.8" lengthAdjust="spacingAndGlyphs" font-weight="bold" >GB93-87</text>
<text x="602.00" y="424.00" fill="#ffffff" font-size="7.6" text-anchor="middle" textLength="13.2" lengthAdjust="spacingAndGlyphs" font-weight="bold" >??14</text>
<text x="649.00" y="424.00" fill="#ffffff" font-size="7.6" text-anchor="middle" font-weight="bold" >4</text>
<text x="679.00" y="424.00" fill="#ffffff" font-size="7.6" text-anchor="middle" textLength="14.4" lengthAdjust="spacingAndGlyphs" font-weight="bold" >65Mn</text>
<text x="711.50" y="424.00" fill="#ffffff" font-size="7.6" text-anchor="middle" textLength="17.0" lengthAdjust="spacingAndGlyphs" font-weight="bold" >0.006</text>
<text x="732.00" y="424.00" fill="#ffffff" font-size="7.6" text-anchor="middle" textLength="17.0" lengthAdjust="spacingAndGlyphs" font-weight="bold" >0.024</text>
<text x="499.20" y="435.00" fill="#ffffff" font-size="7.6" text-anchor="middle" font-weight="bold" >2</text>
<text x="534.30" y="435.00" fill="#ffffff" font-size="7.6" text-anchor="middle" textLength="24.8" lengthAdjust="spacingAndGlyphs" font-weight="bold" >GB41-86</text>
<text x="602.00" y="435.00" fill="#ffffff" font-size="7.6" text-anchor="middle" textLength="19.8" lengthAdjust="spacingAndGlyphs" font-weight="bold" >??M12?</text>
<text x="649.00" y="435.00" fill="#ffffff" font-size="7.6" text-anchor="middle" font-weight="bold" >4</text>
<text x="679.00" y="435.00" fill="#ffffff" font-size="7.6" text-anchor="middle" textLength="18.0" lengthAdjust="spacingAndGlyphs" font-weight="bold" >Q23-A</text>
<text x="711.50" y="435.00" fill="#ffffff" font-size="7.6" text-anchor="middle" textLength="17.0" lengthAdjust="spacingAndGlyphs" font-weight="bold" >0.008</text>
<text x="732.00" y="435.00" fill="#ffffff" font-size="7.6" text-anchor="middle" textLength="17.0" lengthAdjust="spacingAndGlyphs" font-weight="bold" >0.032</text>
<text x="499.20" y="447.00" fill="#ffffff" font-size="7.6" text-anchor="middle" font-weight="bold" >1</text>
<text x="534.30" y="447.00" fill="#ffffff" font-size="7.6" text-anchor="middle" textLength="31.9" lengthAdjust="spacingAndGlyphs" font-weight="bold" >GB5780-86</text>
<text x="602.00" y="447.00" fill="#ffffff" font-size="7.6" text-anchor="middle" textLength="26.4" lengthAdjust="spacingAndGlyphs" font-weight="bold" >??M14x45</text>
<text x="649.00" y="447.00" fill="#ffffff" font-size="7.6" text-anchor="middle" font-weight="bold" >4</text>
<text x="679.00" y="447.00" fill="#ffffff" font-size="7.6" text-anchor="middle" textLength="10.8" lengthAdjust="spacingAndGlyphs" font-weight="bold" >4.8</text>
<text x="711.50" y="447.00" fill="#ffffff" font-size="7.6" text-anchor="middle" textLength="13.6" lengthAdjust="spacingAndGlyphs" font-weight="bold" >0.02</text>
<text x="732.00" y="447.00" fill="#ffffff" font-size="7.6" text-anchor="middle" textLength="13.6" lengthAdjust="spacingAndGlyphs" font-weight="bold" >0.08</text>
<polyline points="496.80,458.33 497.55,457.40 499.05,457.40 499.80,458.33 499.80,459.27 498.30,460.67 498.30,461.51" stroke="#00ffff" fill="none" />
<polyline points="498.30,462.44 498.30,463.00" stroke="#00ffff" fill="none" />
<polyline points="524.20,454.17 525.00,453.20 526.60,453.20 527.40,454.17 527.40,455.13 525.80,456.58 525.80,457.45" stroke="#00ffff" fill="none" />
<polyline points="525.80,458.42 525.80,459.00" stroke="#00ffff" fill="none" />
<polyline points="550.70,454.17 551.50,453.20 553.10,453.20 553.90,454.17 553.90,455.13 552.30,456.58 552.30,457.45" stroke="#00ffff" fill="none" />
<polyline points="552.30,458.42 552.30,459.00" stroke="#00ffff" fill="none" />
<polyline points="588.80,454.17 589.60,453.20 591.20,453.20 592.00,454.17 592.00,455.13 590.40,456.58 590.40,457.45" stroke="#00ffff" fill="none" />
<polyline points="590.40,458.42 590.40,459.00" stroke="#00ffff" fill="none" />
<polyline points="629.00,454.17 629.80,453.20 631.40,453.20 632.20,454.17 632.20,455.13 630.60,456.58 630.60,457.45" stroke="#00ffff" fill="none" />
<polyline points="630.60,458.42 630.60,459.00" stroke="#00ffff" fill="none" />
<polyline points="644.40,454.00 645.15,453.00 646.65,453.00 647.40,454.00 647.40,455.00 645.90,456.50 645.90,457.40" stroke="#00ffff" fill="none" />
<polyline points="645.90,458.40 645.90,459.00" stroke="#00ffff" fill="none" />
<polyline points="647.80,454.00 648.55,453.00 650.05,453.00 650.80,454.00 650.80,455.00 649.30,456.50 649.30,457.40" stroke="#00ffff" fill="none" />
<polyline points="649.30,458.40 649.30,459.00" stroke="#00ffff" fill="none" />
<polyline points="671.20,454.17 672.00,453.20 673.60,453.20 674.40,454.17 674.40,455.13 672.80,456.58 672.80,457.45" stroke="#00ffff" fill="none" />
<polyline points="672.80,458.42 672.80,459.00" stroke="#00ffff" fill="none" />
<polyline points="688.80,454.17 689.60,453.20 691.20,453.20 692.00,454.17 692.00,455.13 690.40,456.58 690.40,457.45" stroke="#00ffff" fill="none" />
<polyline points="690.40,458.42 690.40,459.00" stroke="#00ffff" fill="none" />
<polyline points="708.40,450.83 709.05,450.20 710.35,450.20 711.00,450.83 711.00,451.47 709.70,452.42 709.70,452.99" stroke="#ffffff" fill="none" />
<polyline points="709.70,453.62 709.70,454.00" stroke="#ffffff" fill="none" />
<polyline points="714.60,450.83 715.25,450.20 716.55,450.20 717.20,450.83 717.20,451.47 715.90,452.42 715.90,452.99" stroke="#ffffff" fill="none" />
<polyline points="715.90,453.62 715.90,454.00" stroke="#ffffff" fill="none" />
<polyline points="712.30,457.33 713.10,456.40 714.70,456.40 715.50,457.33 715.50,458.27 713.90,459.67 713.90,460.51" stroke="#00ffff" fill="none" />
<polyline points="713.90,461.44 713.90,462.00" stroke="#00ffff" fill="none" />
<polyline points="731.00,457.33 731.75,456.40 733.25,456.40 734.00,457.33 734.00,458.27 732.50,459.67 732.50,460.51" stroke="#00ffff" fill="none" />
<polyline points="732.50,461.44 732.50,462.00" stroke="#00ffff" fill="none" />
<polyline points="754.80,453.50 755.65,452.50 757.35,452.50 758.20,453.50 758.20,454.50 756.50,456.00 756.50,456.90" stroke="#00ffff" fill="none" />
<polyline points="756.50,457.90 756.50,458.50" stroke="#00ffff" fill="none" />
<polyline points="767.40,453.50 768.25,452.50 769.95,452.50 770.80,453.50 770.80,454.50 769.10,456.00 769.10,456.90" stroke="#00ffff" fill="none" />
<polyline points="769.10,457.90 769.10,458.50" stroke="#00ffff" fill="none" />
<line x1="493.50" y1="463.00" x2="493.50" y2="498.00" stroke="#ffffff" />
<line x1="504.50" y1="463.00" x2="504.50" y2="498.00" stroke="#ffffff" />
<line x1="517.50" y1="463.00" x2="517.50" y2="498.00" stroke="#ffffff" />
<line x1="548.50" y1="463.00" x2="548.50" y2="498.00" stroke="#ffffff" />
<line x1="571.50" y1="463.00" x2="571.50" y2="498.00" stroke="#ffffff" />
<line x1="493.50" y1="497.00" x2="493.50" y2="536.00" stroke="#ffffff" />
<line x1="588.50" y1="463.00" x2="588.50" y2="536.00" stroke="#ffffff" />
<line x1="684.50" y1="463.00" x2="684.50" y2="536.00" stroke="#ffffff" />
<line x1="493.00" y1="471.50" x2="589.00" y2="471.50" stroke="#ffffff" />
<line x1="493.00" y1="479.50" x2="589.00" y2="479.50" stroke="#ffffff" />
<line x1="493.00" y1="487.50" x2="589.00" y2="487.50" stroke="#ffffff" />
<line x1="493.00" y1="497.50" x2="589.00" y2="497.50" stroke="#ffffff" />
<line x1="493.00" y1="506.50" x2="516.00" y2="506.50" stroke="#ffffff" />
<line x1="540.00" y1="506.50" x2="589.00" y2="506.50" stroke="#ffffff" />
<line x1="493.00" y1="516.50" x2="589.00" y2="516.50" stroke="#ffffff" />
<line x1="493.00" y1="525.50" x2="589.00" y2="525.50" stroke="#ffffff" />
<line x1="515.50" y1="497.00" x2="515.50" y2="536.00" stroke="#ffffff" />
<line x1="540.50" y1="497.00" x2="540.50" y2="536.00" stroke="#ffffff" />
<line x1="563.50" y1="497.00" x2="563.50" y2="536.00" stroke="#ffffff" />
<line x1="588.00" y1="490.50" x2="780.00" y2="490.50" stroke="#ffffff" />
<line x1="588.00" y1="516.50" x2="780.00" y2="516.50" stroke="#ffffff" />
<line x1="684.00" y1="498.50" x2="780.00" y2="498.50" stroke="#ffffff" />
<line x1="684.00" y1="508.50" x2="780.00" y2="508.50" stroke="#ffffff" />
<line x1="731.50" y1="490.00" x2="731.50" y2="517.00" stroke="#ffffff" />
<line x1="760.50" y1="490.00" x2="760.50" y2="509.00" stroke="#ffffff" />
<line x1="699.50" y1="498.00" x2="699.50" y2="509.00" stroke="#ffffff" />
<line x1="715.50" y1="498.00" x2="715.50" y2="509.00" stroke="#ffffff" />
<polyline points="609.20,469.33 610.40,467.80 612.80,467.80 614.00,469.33 614.00,470.87 611.60,473.17 611.60,474.55" stroke="#ffffff" fill="none" />
<polyline points="611.60,476.08 611.60,477.00" stroke="#ffffff" fill="none" />
<polyline points="620.95,469.33 622.15,467.80 624.55,467.80 625.75,469.33 625.75,470.87 623.35,473.17 623.35,474.55" stroke="#ffffff" fill="none" />
<polyline points="623.35,476.08 623.35,477.00" stroke="#ffffff" fill="none" />
<polyline points="632.70,469.33 633.90,467.80 636.30,467.80 637.50,469.33 637.50,470.87 635.10,473.17 635.10,474.55" stroke="#ffffff" fill="none" />
<polyline points="635.10,476.08 635.10,477.00" stroke="#ffffff" fill="none" />
<polyline points="644.45,469.33 645.65,467.80 648.05,467.80 649.25,469.33 649.25,470.87 646.85,473.17 646.85,474.55" stroke="#ffffff" fill="none" />
<polyline points="646.85,476.08 646.85,477.00" stroke="#ffffff" fill="none" />
<polyline points="656.20,469.33 657.40,467.80 659.80,467.80 661.00,469.33 661.00,470.87 658.60,473.17 658.60,474.55" stroke="#ffffff" fill="none" />
<polyline points="658.60,476.08 658.60,477.00" stroke="#ffffff" fill="none" />
<polyline points="667.95,469.33 669.15,467.80 671.55,467.80 672.75,469.33 672.75,470.87 670.35,473.17 670.35,474.55" stroke="#ffffff" fill="none" />
<polyline points="670.35,476.08 670.35,477.00" stroke="#ffffff" fill="none" />
<text class="sf" x="632.5" y="488.5" fill="#fff" font-size="9.5" font-weight="bold" stroke="#fff" stroke-width="0.35" text-anchor="middle" textLength="41" lengthAdjust="spacingAndGlyphs">JB/ZQ4000</text>
<polyline points="619.70,501.50 620.85,499.90 623.15,499.90 624.30,501.50 624.30,503.10 622.00,505.50 622.00,506.94" stroke="#ffffff" fill="none" />
<polyline points="622.00,508.54 622.00,509.50" stroke="#ffffff" fill="none" />
<polyline points="625.30,501.50 626.45,499.90 628.75,499.90 629.90,501.50 629.90,503.10 627.60,505.50 627.60,506.94" stroke="#ffffff" fill="none" />
<polyline points="627.60,508.54 627.60,509.50" stroke="#ffffff" fill="none" />
<polyline points="630.90,501.50 632.05,499.90 634.35,499.90 635.50,501.50 635.50,503.10 633.20,505.50 633.20,506.94" stroke="#ffffff" fill="none" />
<polyline points="633.20,508.54 633.20,509.50" stroke="#ffffff" fill="none" />
<polyline points="636.50,501.50 637.65,499.90 639.95,499.90 641.10,501.50 641.10,503.10 638.80,505.50 638.80,506.94" stroke="#ffffff" fill="none" />
<polyline points="638.80,508.54 638.80,509.50" stroke="#ffffff" fill="none" />
<polyline points="642.10,501.50 643.25,499.90 645.55,499.90 646.70,501.50 646.70,503.10 644.40,505.50 644.40,506.94" stroke="#ffffff" fill="none" />
<polyline points="644.40,508.54 644.40,509.50" stroke="#ffffff" fill="none" />
<polyline points="647.70,501.50 648.85,499.90 651.15,499.90 652.30,501.50 652.30,503.10 650.00,505.50 650.00,506.94" stroke="#ffffff" fill="none" />
<polyline points="650.00,508.54 650.00,509.50" stroke="#ffffff" fill="none" />
<polyline points="627.50,523.00 628.65,521.40 630.95,521.40 632.10,523.00 632.10,524.60 629.80,527.00 629.80,528.44" stroke="#ffffff" fill="none" />
<polyline points="629.80,530.04 629.80,531.00" stroke="#ffffff" fill="none" />
<polyline points="633.10,523.00 634.25,521.40 636.55,521.40 637.70,523.00 637.70,524.60 635.40,527.00 635.40,528.44" stroke="#ffffff" fill="none" />
<polyline points="635.40,530.04 635.40,531.00" stroke="#ffffff" fill="none" />
<polyline points="638.70,523.00 639.85,521.40 642.15,521.40 643.30,523.00 643.30,524.60 641.00,527.00 641.00,528.44" stroke="#ffffff" fill="none" />
<polyline points="641.00,530.04 641.00,531.00" stroke="#ffffff" fill="none" />
<polyline points="725.20,524.67 726.30,523.30 728.50,523.30 729.60,524.67 729.60,526.03 727.40,528.08 727.40,529.31" stroke="#ffffff" fill="none" />
<polyline points="727.40,530.68 727.40,531.50" stroke="#ffffff" fill="none" />
<polyline points="730.40,524.67 731.50,523.30 733.70,523.30 734.80,524.67 734.80,526.03 732.60,528.08 732.60,529.31" stroke="#ffffff" fill="none" />
<polyline points="732.60,530.68 732.60,531.50" stroke="#ffffff" fill="none" />
<polyline points="494.60,491.33 495.25,490.40 496.55,490.40 497.20,491.33 497.20,492.27 495.90,493.67 495.90,494.51" stroke="#ffffff" fill="none" />
<polyline points="495.90,495.44 495.90,496.00" stroke="#ffffff" fill="none" />
<polyline points="497.40,491.33 498.05,490.40 499.35,490.40 500.00,491.33 500.00,492.27 498.70,493.67 498.70,494.51" stroke="#ffffff" fill="none" />
<polyline points="498.70,495.44 498.70,496.00" stroke="#ffffff" fill="none" />
<polyline points="505.30,491.33 505.95,490.40 507.25,490.40 507.90,491.33 507.90,492.27 506.60,493.67 506.60,494.51" stroke="#ffffff" fill="none" />
<polyline points="506.60,495.44 506.60,496.00" stroke="#ffffff" fill="none" />
<polyline points="508.10,491.33 508.75,490.40 510.05,490.40 510.70,491.33 510.70,492.27 509.40,493.67 509.40,494.51" stroke="#ffffff" fill="none" />
<polyline points="509.40,495.44 509.40,496.00" stroke="#ffffff" fill="none" />
<polyline points="518.30,491.83 519.00,491.00 520.40,491.00 521.10,491.83 521.10,492.67 519.70,493.92 519.70,494.67" stroke="#ffffff" fill="none" />
<polyline points="519.70,495.50 519.70,496.00" stroke="#ffffff" fill="none" />
<polyline points="528.70,491.83 529.40,491.00 530.80,491.00 531.50,491.83 531.50,492.67 530.10,493.92 530.10,494.67" stroke="#ffffff" fill="none" />
<polyline points="530.10,495.50 530.10,496.00" stroke="#ffffff" fill="none" />
<polyline points="539.00,491.83 539.70,491.00 541.10,491.00 541.80,491.83 541.80,492.67 540.40,493.92 540.40,494.67" stroke="#ffffff" fill="none" />
<polyline points="540.40,495.50 540.40,496.00" stroke="#ffffff" fill="none" />
<polyline points="551.70,491.83 552.40,491.00 553.80,491.00 554.50,491.83 554.50,492.67 553.10,493.92 553.10,494.67" stroke="#ffffff" fill="none" />
<polyline points="553.10,495.50 553.10,496.00" stroke="#ffffff" fill="none" />
<polyline points="562.00,491.83 562.70,491.00 564.10,491.00 564.80,491.83 564.80,492.67 563.40,493.92 563.40,494.67" stroke="#ffffff" fill="none" />
<polyline points="563.40,495.50 563.40,496.00" stroke="#ffffff" fill="none" />
<polyline points="572.80,491.83 573.50,491.00 574.90,491.00 575.60,491.83 575.60,492.67 574.20,493.92 574.20,494.67" stroke="#ffffff" fill="none" />
<polyline points="574.20,495.50 574.20,496.00" stroke="#ffffff" fill="none" />
<polyline points="579.00,491.83 579.70,491.00 581.10,491.00 581.80,491.83 581.80,492.67 580.40,493.92 580.40,494.67" stroke="#ffffff" fill="none" />
<polyline points="580.40,495.50 580.40,496.00" stroke="#ffffff" fill="none" />
<polyline points="495.80,500.83 496.50,500.00 497.90,500.00 498.60,500.83 498.60,501.67 497.20,502.92 497.20,503.67" stroke="#ffffff" fill="none" />
<polyline points="497.20,504.50 497.20,505.00" stroke="#ffffff" fill="none" />
<polyline points="506.20,500.83 506.90,500.00 508.30,500.00 509.00,500.83 509.00,501.67 507.60,502.92 507.60,503.67" stroke="#ffffff" fill="none" />
<polyline points="507.60,504.50 507.60,505.00" stroke="#ffffff" fill="none" />
<polyline points="543.00,500.83 543.70,500.00 545.10,500.00 545.80,500.83 545.80,501.67 544.40,502.92 544.40,503.67" stroke="#ffffff" fill="none" />
<polyline points="544.40,504.50 544.40,505.00" stroke="#ffffff" fill="none" />
<polyline points="553.60,500.83 554.30,500.00 555.70,500.00 556.40,500.83 556.40,501.67 555.00,502.92 555.00,503.67" stroke="#ffffff" fill="none" />
<polyline points="555.00,504.50 555.00,505.00" stroke="#ffffff" fill="none" />
<polyline points="495.80,510.33 496.50,509.50 497.90,509.50 498.60,510.33 498.60,511.17 497.20,512.42 497.20,513.17" stroke="#ffffff" fill="none" />
<polyline points="497.20,514.00 497.20,514.50" stroke="#ffffff" fill="none" />
<polyline points="506.20,510.33 506.90,509.50 508.30,509.50 509.00,510.33 509.00,511.17 507.60,512.42 507.60,513.17" stroke="#ffffff" fill="none" />
<polyline points="507.60,514.00 507.60,514.50" stroke="#ffffff" fill="none" />
<polyline points="543.00,510.33 543.70,509.50 545.10,509.50 545.80,510.33 545.80,511.17 544.40,512.42 544.40,513.17" stroke="#ffffff" fill="none" />
<polyline points="544.40,514.00 544.40,514.50" stroke="#ffffff" fill="none" />
<polyline points="553.60,510.33 554.30,509.50 555.70,509.50 556.40,510.33 556.40,511.17 555.00,512.42 555.00,513.17" stroke="#ffffff" fill="none" />
<polyline points="555.00,514.00 555.00,514.50" stroke="#ffffff" fill="none" />
<polyline points="495.80,520.33 496.50,519.50 497.90,519.50 498.60,520.33 498.60,521.17 497.20,522.42 497.20,523.17" stroke="#ffffff" fill="none" />
<polyline points="497.20,524.00 497.20,524.50" stroke="#ffffff" fill="none" />
<polyline points="506.20,520.33 506.90,519.50 508.30,519.50 509.00,520.33 509.00,521.17 507.60,522.42 507.60,523.17" stroke="#ffffff" fill="none" />
<polyline points="507.60,524.00 507.60,524.50" stroke="#ffffff" fill="none" />
<polyline points="495.80,529.83 496.50,529.00 497.90,529.00 498.60,529.83 498.60,530.67 497.20,531.92 497.20,532.67" stroke="#ffffff" fill="none" />
<polyline points="497.20,533.50 497.20,534.00" stroke="#ffffff" fill="none" />
<polyline points="506.20,529.83 506.90,529.00 508.30,529.00 509.00,529.83 509.00,530.67 507.60,531.92 507.60,532.67" stroke="#ffffff" fill="none" />
<polyline points="507.60,533.50 507.60,534.00" stroke="#ffffff" fill="none" />
<polyline points="543.00,529.83 543.70,529.00 545.10,529.00 545.80,529.83 545.80,530.67 544.40,531.92 544.40,532.67" stroke="#ffffff" fill="none" />
<polyline points="544.40,533.50 544.40,534.00" stroke="#ffffff" fill="none" />
<polyline points="553.60,529.83 554.30,529.00 555.70,529.00 556.40,529.83 556.40,530.67 555.00,531.92 555.00,532.67" stroke="#ffffff" fill="none" />
<polyline points="555.00,533.50 555.00,534.00" stroke="#ffffff" fill="none" />
<polyline points="687.80,493.53 688.50,492.70 689.90,492.70 690.60,493.53 690.60,494.37 689.20,495.62 689.20,496.37" stroke="#ffffff" fill="none" />
<polyline points="689.20,497.20 689.20,497.70" stroke="#ffffff" fill="none" />
<polyline points="698.10,493.53 698.80,492.70 700.20,492.70 700.90,493.53 700.90,494.37 699.50,495.62 699.50,496.37" stroke="#ffffff" fill="none" />
<polyline points="699.50,497.20 699.50,497.70" stroke="#ffffff" fill="none" />
<polyline points="708.00,493.53 708.70,492.70 710.10,492.70 710.80,493.53 710.80,494.37 709.40,495.62 709.40,496.37" stroke="#ffffff" fill="none" />
<polyline points="709.40,497.20 709.40,497.70" stroke="#ffffff" fill="none" />
<polyline points="718.00,493.53 718.70,492.70 720.10,492.70 720.80,493.53 720.80,494.37 719.40,495.62 719.40,496.37" stroke="#ffffff" fill="none" />
<polyline points="719.40,497.20 719.40,497.70" stroke="#ffffff" fill="none" />
<polyline points="737.00,493.53 737.70,492.70 739.10,492.70 739.80,493.53 739.80,494.37 738.40,495.62 738.40,496.37" stroke="#ffffff" fill="none" />
<polyline points="738.40,497.20 738.40,497.70" stroke="#ffffff" fill="none" />
<polyline points="751.40,493.53 752.10,492.70 753.50,492.70 754.20,493.53 754.20,494.37 752.80,495.62 752.80,496.37" stroke="#ffffff" fill="none" />
<polyline points="752.80,497.20 752.80,497.70" stroke="#ffffff" fill="none" />
<polyline points="766.00,493.53 766.70,492.70 768.10,492.70 768.80,493.53 768.80,494.37 767.40,495.62 767.40,496.37" stroke="#ffffff" fill="none" />
<polyline points="767.40,497.20 767.40,497.70" stroke="#ffffff" fill="none" />
<polyline points="772.20,493.53 772.90,492.70 774.30,492.70 775.00,493.53 775.00,494.37 773.60,495.62 773.60,496.37" stroke="#ffffff" fill="none" />
<polyline points="773.60,497.20 773.60,497.70" stroke="#ffffff" fill="none" />
<polyline points="742.30,501.80 742.90,501.10 744.10,501.10 744.70,501.80 744.70,502.50 743.50,503.55 743.50,504.18" stroke="#ffffff" fill="none" />
<polyline points="743.50,504.88 743.50,505.30" stroke="#ffffff" fill="none" />
<polyline points="745.20,501.80 745.80,501.10 747.00,501.10 747.60,501.80 747.60,502.50 746.40,503.55 746.40,504.18" stroke="#ffffff" fill="none" />
<polyline points="746.40,504.88 746.40,505.30" stroke="#ffffff" fill="none" />
<text x="768.70" y="507.50" fill="#ffffff" font-size="7" text-anchor="middle" textLength="13.5" lengthAdjust="spacingAndGlyphs" font-weight="bold" stroke="#fff" stroke-width="0.3">1:2.5</text>
<polyline points="692.10,511.63 692.80,510.80 694.20,510.80 694.90,511.63 694.90,512.47 693.50,513.72 693.50,514.47" stroke="#ffffff" fill="none" />
<polyline points="693.50,515.30 693.50,515.80" stroke="#ffffff" fill="none" />
<polyline points="720.10,511.63 720.80,510.80 722.20,510.80 722.90,511.63 722.90,512.47 721.50,513.72 721.50,514.47" stroke="#ffffff" fill="none" />
<polyline points="721.50,515.30 721.50,515.80" stroke="#ffffff" fill="none" />
<polyline points="739.70,511.63 740.40,510.80 741.80,510.80 742.50,511.63 742.50,512.47 741.10,513.72 741.10,514.47" stroke="#ffffff" fill="none" />
<polyline points="741.10,515.30 741.10,515.80" stroke="#ffffff" fill="none" />
<polyline points="767.90,511.63 768.60,510.80 770.00,510.80 770.70,511.63 770.70,512.47 769.30,513.72 769.30,514.47" stroke="#ffffff" fill="none" />
<polyline points="769.30,515.30 769.30,515.80" stroke="#ffffff" fill="none" />
<polyline points="380.15,63.85 406.34,63.14 404.56,55.44 408.49,53.81 433.62,61.23 434.31,53.36 438.54,53.02 460.15,67.85 463.24,60.58 467.37,61.56 483.34,82.34 488.52,76.38 492.15,78.59 500.92,103.29 507.69,99.22 510.45,102.45 511.16,128.64 518.86,126.86 520.49,130.79 513.07,155.92 520.94,156.61 521.28,160.84 506.45,182.45 513.72,185.54 512.74,189.67 506.51,194.46" fill="none" stroke="#ffffff" />
<polyline points="474.72,221.90 471.01,223.22 475.08,229.99 471.85,232.75 445.66,233.46 447.44,241.16 443.51,242.79 418.38,235.37 417.69,243.24 413.46,243.58 391.85,228.75 388.76,236.02 384.63,235.04 368.66,214.26 363.48,220.22 359.85,218.01 351.08,193.31 344.31,197.38 341.55,194.15 340.84,167.96 333.14,169.74 331.51,165.81 338.93,140.68 331.06,139.99 330.72,135.76 345.55,114.15 338.28,111.06 339.26,106.93 355.47,94.47" fill="none" stroke="#ffffff" />
<polyline points="460.79,158.30 460.09,160.49 459.24,162.63 458.26,164.72 457.16,166.73 455.92,168.68 454.57,170.54 453.09,172.31 451.51,173.98 449.83,175.55 448.05,177.01 446.18,178.35 444.23,179.57 442.21,180.67 440.12,181.63 437.97,182.46 435.77,183.16 433.54,183.71 431.27,184.11 428.99,184.38 426.69,184.49 424.39,184.46 422.09,184.29 419.81,183.97 417.56,183.50 415.34,182.89 413.16,182.15 411.04,181.26 408.97,180.25 406.98,179.10 405.06,177.83 403.22,176.44 401.48,174.93 399.84,173.32 398.30,171.61 396.88,169.80 395.57,167.91 394.38,165.93 393.33,163.89 392.40,161.78 391.61,159.62 390.96,157.41 390.46,155.16 390.09,152.89 389.87,150.60 389.80,148.30 389.87,146.00 390.09,143.71 390.46,141.44 390.96,139.19 391.61,136.98 392.40,134.82 393.33,132.71 394.38,130.67 395.57,128.69 396.88,126.80 398.30,124.99 399.84,123.28 401.48,121.67 403.22,120.16 405.06,118.77 406.98,117.50 408.97,116.35 411.04,115.34 413.16,114.45 415.34,113.71 417.56,113.10 419.81,112.63 422.09,112.31 424.39,112.14 426.69,112.11 428.99,112.22 431.27,112.49 433.54,112.89 435.77,113.44 437.97,114.14 440.12,114.97 442.21,115.93 444.23,117.03 446.18,118.25 448.05,119.59 449.83,121.05 451.51,122.62 453.09,124.29 454.57,126.06 455.92,127.92 457.16,129.87 458.26,131.88 459.24,133.97 460.09,136.11 460.79,138.30 469.50,137.50 469.50,157.50 460.79,158.30" fill="none" stroke="#ffffff" />
<polyline points="392.97,109.70 395.08,108.00 397.27,106.41 399.54,104.94 401.89,103.59 404.30,102.37 406.78,101.28 409.31,100.32 411.89,99.50 414.51,98.82 417.16,98.28 419.83,97.88 422.53,97.62 425.23,97.51 427.94,97.54 430.64,97.71 433.33,98.03 435.99,98.49 438.63,99.10 441.23,99.84 443.79,100.72 446.30,101.73 448.75,102.88 451.14,104.16 453.45,105.56 455.69,107.08 457.85,108.72 459.91,110.47 461.87,112.33 463.74,114.29 465.50,116.35 467.14,118.50 468.67,120.73 470.08,123.04 471.36,125.43 472.51,127.88 473.54,130.38 474.42,132.94 475.17,135.54 475.78,138.18 476.25,140.84 476.58,143.53 476.76,146.23 476.80,148.93 476.69,151.64 476.44,154.33 476.05,157.01 475.51,159.66 474.84,162.28 474.02,164.87 473.07,167.40 471.99,169.88 470.77,172.30 469.43,174.65 467.97,176.92 466.38,179.12 464.69,181.22" fill="none" stroke="#ffffff" />
<polyline points="459.26,186.70 457.19,188.39 455.04,189.98 452.81,191.45 450.50,192.80 448.12,194.03 445.69,195.13 443.20,196.10 440.66,196.94 438.08,197.64 435.46,198.21 432.82,198.64 430.17,198.93 427.50,199.08 424.82,199.09 422.15,198.95 419.49,198.68 416.85,198.27 414.23,197.72 411.65,197.03 409.10,196.21 406.61,195.25 404.16,194.17 401.78,192.95 399.46,191.62 397.22,190.16 395.06,188.59 392.98,186.91 391.00,185.11 389.11,183.22 387.32,181.23 385.64,179.15 384.07,176.98 382.62,174.74 381.29,172.42 380.08,170.03 379.00,167.59 378.05,165.09 377.24,162.54 376.56,159.96 376.01,157.34 375.60,154.69 375.34,152.03 375.21,149.36 375.23,146.69 375.38,144.02 375.68,141.36 376.11,138.72 376.68,136.11 377.39,133.53 378.24,131.00 379.21,128.51 380.32,126.07 381.55,123.70 382.91,121.39 384.39,119.16 385.98,117.01 387.68,114.95" fill="none" stroke="#ffffff" />
<polyline points="378.06,85.14 381.48,82.68 385.03,80.41 388.69,78.33 392.46,76.44 396.32,74.76 400.27,73.29 404.29,72.03 408.37,70.98 412.50,70.16 416.67,69.55 420.87,69.17 425.08,69.01 429.29,69.07 433.49,69.35 437.68,69.86 441.82,70.60 445.93,71.55 449.98,72.71 453.96,74.09 457.86,75.68 461.67,77.48 465.38,79.47 468.98,81.66 472.46,84.04 475.81,86.59 479.02,89.33 482.07,92.23 484.97,95.28 487.71,98.49 490.26,101.84 492.64,105.32 494.83,108.92 496.82,112.63 498.62,116.44 500.21,120.34 501.59,124.32 502.75,128.37 503.70,132.48 504.44,136.62 504.95,140.81 505.23,145.01 505.29,149.22 505.13,153.43 504.75,157.63 504.14,161.80 503.32,165.93 502.27,170.01 501.01,174.03 499.54,177.98 497.86,181.84 495.97,185.61 493.89,189.27 491.62,192.82 489.16,196.24" fill="none" stroke="#ffffff" />
<polyline points="475.26,210.45 471.90,212.97 468.41,215.31 464.80,217.46 461.08,219.42 457.26,221.18 453.36,222.73 449.38,224.08 445.33,225.21 441.23,226.12 437.09,226.82 432.91,227.30 428.72,227.55 424.52,227.59 420.32,227.40 416.14,226.98 411.98,226.35 407.87,225.50 403.80,224.43 399.80,223.15 395.87,221.65 392.03,219.96 388.28,218.06 384.64,215.96 381.12,213.67 377.72,211.21 374.45,208.56 371.33,205.74 368.37,202.77 365.56,199.64 362.93,196.36 360.47,192.96 358.20,189.42 356.11,185.77 354.23,182.02 352.54,178.17 351.06,174.24 349.79,170.23 348.74,166.16 347.90,162.05 347.28,157.89 346.88,153.71 346.71,149.51 346.76,145.31 347.03,141.11 347.52,136.94 348.23,132.80 349.16,128.70 350.31,124.66 351.66,120.68 353.23,116.78 355.00,112.97 356.97,109.26 359.14,105.66 361.49,102.18 364.03,98.83" fill="none" stroke="#ffffff" />
<g>
<polyline points="387.50,114.80 360.60,77.20 365.00,73.20 392.80,109.50" fill="none" stroke="#ffffff" />
<line x1="362.60" y1="81.00" x2="386.30" y2="114.20" stroke="#ffffff" />
<polyline points="371.36,76.01 369.81,77.57 377.66,85.42" fill="none" stroke="#ffffff" />
<polygon points="369.74,74.38 371.72,72.40 378.79,79.48 376.81,81.46" fill="none" stroke="#ffffff" />
<polygon points="370.52,71.20 377.23,64.48 386.28,73.54 379.57,80.25" fill="none" stroke="#ffffff" />
<polygon points="378.93,66.18 381.83,63.28 387.20,68.66 384.30,71.56" fill="none" stroke="#ffffff" />
<line x1="372.78" y1="68.94" x2="381.83" y2="77.99" stroke="#ffffff" />
<line x1="375.04" y1="66.68" x2="384.09" y2="75.73" stroke="#ffffff" />
<line x1="369.17" y1="78.34" x2="380.49" y2="67.03" stroke="#ff00ff" stroke-dasharray="2 1.5"/>
<line x1="373.49" y1="82.66" x2="384.80" y2="71.34" stroke="#ff00ff" stroke-dasharray="2 1.5"/>
<line x1="367.83" y1="84.07" x2="386.21" y2="65.69" stroke="#ff0000" stroke-dasharray="7 2 2 2"/>
<polyline points="355.81,82.23 351.57,86.48 363.87,98.78" fill="none" stroke="#ffffff" />
<polyline points="351.57,86.48 349.23,91.64 359.20,101.18 363.87,98.78" fill="none" stroke="#ffffff" />
<line x1="351.21" y1="93.33" x2="354.82" y2="89.73" stroke="#ffffff" />
<line x1="353.62" y1="95.74" x2="357.22" y2="92.13" stroke="#ffffff" />
<line x1="356.59" y1="98.71" x2="360.19" y2="95.10" stroke="#ffffff" />
<line x1="352.84" y1="91.71" x2="358.21" y2="97.08" stroke="#ffffff" />
<line x1="352.98" y1="98.92" x2="361.46" y2="90.44" stroke="#ff0000" stroke-dasharray="4 2"/>
<polyline points="359.91,86.33 362.45,86.33 361.89,88.31" fill="none" stroke="#ffffff" />
<line x1="354.30" y1="76.50" x2="359.00" y2="81.20" stroke="#ff0000" />
</g>
<g transform="matrix(0,-1,-1,0,573,573)">
<polyline points="387.50,114.80 360.60,77.20 365.00,73.20 392.80,109.50" fill="none" stroke="#ffffff" />
<line x1="362.60" y1="81.00" x2="386.30" y2="114.20" stroke="#ffffff" />
<polyline points="371.36,76.01 369.81,77.57 377.66,85.42" fill="none" stroke="#ffffff" />
<polygon points="369.74,74.38 371.72,72.40 378.79,79.48 376.81,81.46" fill="none" stroke="#ffffff" />
<polygon points="370.52,71.20 377.23,64.48 386.28,73.54 379.57,80.25" fill="none" stroke="#ffffff" />
<polygon points="378.93,66.18 381.83,63.28 387.20,68.66 384.30,71.56" fill="none" stroke="#ffffff" />
<line x1="372.78" y1="68.94" x2="381.83" y2="77.99" stroke="#ffffff" />
<line x1="375.04" y1="66.68" x2="384.09" y2="75.73" stroke="#ffffff" />
<line x1="369.17" y1="78.34" x2="380.49" y2="67.03" stroke="#ff00ff" stroke-dasharray="2 1.5"/>
<line x1="373.49" y1="82.66" x2="384.80" y2="71.34" stroke="#ff00ff" stroke-dasharray="2 1.5"/>
<line x1="367.83" y1="84.07" x2="386.21" y2="65.69" stroke="#ff0000" stroke-dasharray="7 2 2 2"/>
<polyline points="355.81,82.23 351.57,86.48 363.87,98.78" fill="none" stroke="#ffffff" />
<polyline points="351.57,86.48 349.23,91.64 359.20,101.18 363.87,98.78" fill="none" stroke="#ffffff" />
<line x1="351.21" y1="93.33" x2="354.82" y2="89.73" stroke="#ffffff" />
<line x1="353.62" y1="95.74" x2="357.22" y2="92.13" stroke="#ffffff" />
<line x1="356.59" y1="98.71" x2="360.19" y2="95.10" stroke="#ffffff" />
<line x1="352.84" y1="91.71" x2="358.21" y2="97.08" stroke="#ffffff" />
<line x1="352.98" y1="98.92" x2="361.46" y2="90.44" stroke="#ff0000" stroke-dasharray="4 2"/>
<polyline points="359.91,86.33 362.45,86.33 361.89,88.31" fill="none" stroke="#ffffff" />
<line x1="354.30" y1="76.50" x2="359.00" y2="81.20" stroke="#ff0000" />
</g>
<circle cx="285.60" cy="204.50" r="9.70" fill="none" stroke="#ffffff" />
<circle cx="285.60" cy="204.50" r="19.40" fill="none" stroke="#ffffff" />
<polyline points="267.40,197.50 279.60,154.40 307.70,122.60 331.70,110.50 339.50,110.10 346.90,112.90 340.50,120.50 331.50,131.00 325.00,138.60 322.00,146.60 318.90,157.50" fill="none" stroke="#ffffff" />
<polyline points="314.60,172.50 304.90,204.60" fill="none" stroke="#ffffff" />
<polyline points="267.40,197.50 266.50,206.00 266.50,233.00" fill="none" stroke="#ffffff" />
<line x1="304.50" y1="204.00" x2="304.50" y2="233.00" stroke="#ffffff" />
<line x1="285.60" y1="204.50" x2="307.50" y2="123.00" stroke="#ff0000" stroke-dasharray="11.5 1.5 1.5 1.5"/>
<polygon points="297.04,161.04 295.84,160.21 294.86,159.14 294.13,157.88 293.71,156.49 293.61,155.03 293.83,153.60 294.36,152.24 295.19,151.04 296.26,150.06 297.52,149.33 298.91,148.91 300.37,148.81 301.80,149.03 303.16,149.56 380.26,190.66 381.46,191.49 382.44,192.56 383.17,193.82 383.59,195.21 383.69,196.67 383.47,198.10 382.94,199.46 382.11,200.66 381.04,201.64 379.78,202.37 378.39,202.79 376.93,202.89 375.50,202.67 374.14,202.14" fill="#000" stroke="none"/>
<line x1="305.81" y1="150.98" x2="381.14" y2="191.13" stroke="#ffffff" />
<line x1="296.16" y1="160.57" x2="373.26" y2="201.67" stroke="#ffffff" />
<polyline points="297.04,161.04 295.84,160.21 294.86,159.14 294.13,157.88 293.71,156.49 293.61,155.03 293.83,153.60 294.36,152.24 295.19,151.04 296.26,150.06 297.52,149.33 298.91,148.91 300.37,148.81 301.80,149.03 303.16,149.56" fill="none" stroke="#ffffff" />
<polyline points="382.72,192.96 383.29,194.12 383.62,195.37 383.69,196.67 383.51,197.95 383.08,199.17 382.42,200.28 381.54,201.24 380.50,202.00 379.32,202.54 378.07,202.84 376.77,202.89 375.50,202.67 374.29,202.21 373.19,201.52" fill="none" stroke="#ffffff" />
<circle cx="300.10" cy="155.30" r="4.50" fill="none" stroke="#ffffff" />
<circle cx="377.20" cy="196.40" r="3.20" fill="none" stroke="#ffffff" />
<line x1="300.10" y1="155.30" x2="396.61" y2="206.75" stroke="#ff0000" stroke-dasharray="11.5 1.5 1.5 1.5"/>
<polyline points="426.00,79.80 429.59,79.89 433.16,80.18 436.72,80.64 440.24,81.30 443.73,82.13 447.17,83.15 450.55,84.35 453.86,85.72 457.10,87.27 460.25,88.98 463.31,90.85 466.26,92.88 469.11,95.07 471.84,97.39 474.44,99.86 476.91,102.46 479.23,105.19 481.42,108.04 483.45,110.99 485.32,114.05 487.03,117.20 488.58,120.44 489.95,123.75 491.15,127.13 492.17,130.57 493.00,134.06 493.66,137.58 494.12,141.14 494.41,144.71 494.50,148.30 494.41,151.89 494.12,155.46 493.66,159.02 493.00,162.54 492.17,166.03 491.15,169.47 489.95,172.85 488.58,176.16 487.03,179.40 485.32,182.55 483.45,185.61 481.42,188.56 479.23,191.41 476.91,194.14 474.44,196.74 471.84,199.21 469.11,201.53 466.26,203.72 463.31,205.75 460.25,207.62 457.10,209.33 453.86,210.88 450.55,212.25 447.17,213.45 443.73,214.47 440.24,215.30 436.72,215.96 433.16,216.42 429.59,216.71 426.00,216.80 422.41,216.71 418.84,216.42 415.28,215.96 411.76,215.30 408.27,214.47 404.83,213.45 401.45,212.25 398.14,210.88 394.90,209.33 391.75,207.62 388.69,205.75 385.74,203.72 382.89,201.53 380.16,199.21 377.56,196.74 375.09,194.14 372.77,191.41 370.58,188.56 368.55,185.61 366.68,182.55 364.97,179.40 363.42,176.16 362.05,172.85 360.85,169.47 359.83,166.03 359.00,162.54 358.34,159.02 357.88,155.46 357.59,151.89 357.50,148.30 357.59,144.71 357.88,141.14 358.34,137.58 359.00,134.06 359.83,130.57 360.85,127.13 362.05,123.75 363.42,120.44 364.97,117.20 366.68,114.05 368.55,110.99 370.58,108.04 372.77,105.19 375.09,102.46 377.56,99.86 380.16,97.39 382.89,95.07 385.74,92.88 388.69,90.85 391.75,88.98 394.90,87.27 398.14,85.72 401.45,84.35 404.83,83.15 408.27,82.13 411.76,81.30 415.28,80.64 418.84,80.18 422.41,79.89 426.00,79.80" fill="none" stroke="#ff0000" stroke-dasharray="11.5 1.5 1.5 1.5"/>
<line x1="314.00" y1="147.50" x2="541.00" y2="147.50" stroke="#00ffff" />
<line x1="314.00" y1="147.50" x2="537.00" y2="147.50" stroke="#ff0000" stroke-dasharray="10 2 2 2" stroke-dashoffset="5"/>
<line x1="425.50" y1="31.50" x2="425.50" y2="259.00" stroke="#ff0000" stroke-dasharray="12.6 1.2 1 1.2"/>
<line x1="354.30" y1="76.50" x2="497.00" y2="219.20" stroke="#ff0000" stroke-dasharray="12 1.4 1.2 1.4"/>
<line x1="426.00" y1="148.30" x2="370.00" y2="204.30" stroke="#ff0000" stroke-dasharray="12 1.4 1.2 1.4"/>
<line x1="245.00" y1="204.50" x2="310.00" y2="204.50" stroke="#ff0000" />
<line x1="310.00" y1="204.50" x2="537.00" y2="204.50" stroke="#00ffff" />
<polyline points="253.50,233.00 253.50,144.50 260.50,144.50 260.50,227.00" fill="none" stroke="#ffffff" />
<polyline points="252.50,190.00 241.50,232.00" fill="none" stroke="#ffffff" />
<rect x="237.5" y="160.5" width="4" height="12" stroke="#ffffff"/>
<rect x="248.5" y="160.5" width="5" height="13" stroke="#ffffff"/>
<rect x="260.5" y="163.5" width="4" height="6" stroke="#ffffff"/>
<line x1="241.00" y1="168.50" x2="249.00" y2="168.50" stroke="#ffffff" />
<line x1="241.00" y1="163.50" x2="249.00" y2="163.50" stroke="#ff00ff" />
<line x1="241.00" y1="166.50" x2="266.00" y2="166.50" stroke="#ff0000" stroke-dasharray="6 2"/>
<line x1="260.00" y1="164.50" x2="262.00" y2="164.50" stroke="#ff00ff" />
<rect x="241.5" y="233.5" width="89" height="7" stroke="#ffffff"/>
<rect x="249.5" y="217.5" width="8" height="9" stroke="#ffffff"/>
<line x1="249.50" y1="218.00" x2="249.50" y2="227.00" stroke="#ff00ff" />
<line x1="257.50" y1="218.00" x2="257.50" y2="227.00" stroke="#ff00ff" />
<rect x="244.5" y="226.5" width="17" height="7" stroke="#ffffff"/>
<line x1="249.50" y1="227.00" x2="249.50" y2="233.00" stroke="#ffffff" />
<line x1="257.50" y1="227.00" x2="257.50" y2="233.00" stroke="#ffffff" />
<rect x="246.5" y="246.5" width="15" height="6" stroke="#ffffff" rx="1"/>
<line x1="250.50" y1="247.00" x2="250.50" y2="252.00" stroke="#ffffff" />
<line x1="257.50" y1="247.00" x2="257.50" y2="252.00" stroke="#ffffff" />
<line x1="253.50" y1="214.00" x2="253.50" y2="254.00" stroke="#ff0000" stroke-dasharray="22 2 3 2"/>
<rect x="313.5" y="217.5" width="8" height="9" stroke="#ffffff"/>
<line x1="313.50" y1="218.00" x2="313.50" y2="227.00" stroke="#ff00ff" />
<line x1="321.50" y1="218.00" x2="321.50" y2="227.00" stroke="#ff00ff" />
<rect x="308.5" y="226.5" width="17" height="7" stroke="#ffffff"/>
<line x1="313.50" y1="227.00" x2="313.50" y2="233.00" stroke="#ffffff" />
<line x1="321.50" y1="227.00" x2="321.50" y2="233.00" stroke="#ffffff" />
<rect x="310.5" y="246.5" width="15" height="6" stroke="#ffffff" rx="1"/>
<line x1="314.50" y1="247.00" x2="314.50" y2="252.00" stroke="#ffffff" />
<line x1="321.50" y1="247.00" x2="321.50" y2="252.00" stroke="#ffffff" />
<line x1="317.50" y1="214.00" x2="317.50" y2="254.00" stroke="#ff0000" stroke-dasharray="22 2 3 2"/>
<line x1="228.00" y1="240.50" x2="344.00" y2="240.50" stroke="#ff00ff" />
<line x1="228.50" y1="240.00" x2="228.50" y2="247.00" stroke="#ff00ff" />
<line x1="343.50" y1="240.00" x2="343.50" y2="247.00" stroke="#ff00ff" />
<line x1="228.00" y1="246.50" x2="344.00" y2="246.50" stroke="#ff00ff" stroke-dasharray="10 3 2 3"/>
<line x1="228.50" y1="246.50" x2="158.50" y2="432.50" stroke="#ff00ff" stroke-dasharray="8 2 1.5 2 1.5 2"/>
<line x1="343.50" y1="246.50" x2="413.50" y2="432.50" stroke="#ff00ff" stroke-dasharray="8 2 1.5 2 1.5 2"/>
<line x1="158.00" y1="432.50" x2="414.00" y2="432.50" stroke="#ff00ff" stroke-dasharray="11 2 2 2 2 2"/>
<line x1="158.00" y1="438.50" x2="414.00" y2="438.50" stroke="#ff00ff" stroke-dasharray="11 2 2 2 2 2"/>
<line x1="158.50" y1="432.00" x2="158.50" y2="439.00" stroke="#ff00ff" />
<line x1="413.50" y1="432.00" x2="413.50" y2="439.00" stroke="#ff00ff" />
<line x1="228.50" y1="247.00" x2="228.50" y2="432.00" stroke="#ff00ff" stroke-dasharray="12 2 2 2"/>
<line x1="234.50" y1="247.00" x2="234.50" y2="432.00" stroke="#ff00ff" stroke-dasharray="12 2 2 2"/>
<line x1="337.50" y1="247.00" x2="337.50" y2="432.00" stroke="#ff00ff" stroke-dasharray="12 2 2 2"/>
<line x1="343.50" y1="247.00" x2="343.50" y2="432.00" stroke="#ff00ff" stroke-dasharray="12 2 2 2"/>
<line x1="344.00" y1="240.50" x2="542.00" y2="240.50" stroke="#00ffff" />
<line x1="536.00" y1="204.50" x2="542.00" y2="204.50" stroke="#00ffff" />
<line x1="536.50" y1="147.00" x2="536.50" y2="241.00" stroke="#00ffff" />
<line x1="425.50" y1="259.00" x2="425.50" y2="291.00" stroke="#00ffff" />
<line x1="285.00" y1="286.50" x2="426.00" y2="286.50" stroke="#00ffff" />
<line x1="285.50" y1="263.00" x2="285.50" y2="287.00" stroke="#00ffff" />
<line x1="285.50" y1="148.00" x2="285.50" y2="450.00" stroke="#ff0000" stroke-dasharray="12.6 1.2 1 1.2" stroke-dashoffset="10.5"/>
<polygon points="286,286.5 290.0,287.5 290.0,285.5" fill="#00ffff" stroke="none"/>
<polygon points="425,286.5 421.0,285.5 421.0,287.5" fill="#00ffff" stroke="none"/>
<polygon points="536.5,148 537.5,152.0 535.5,152.0" fill="#00ffff" stroke="none"/>
<polygon points="536.5,204 535.5,200.0 537.5,200.0" fill="#00ffff" stroke="none"/>
<polygon points="536.5,205 537.5,209.0 535.5,209.0" fill="#00ffff" stroke="none"/>
<polygon points="536.5,240 535.5,236.0 537.5,236.0" fill="#00ffff" stroke="none"/>
<polyline points="348.50,280.00 349.41,279.00 351.22,279.00 352.12,280.00 352.12,281.40 348.50,284.00 348.50,285.00 352.12,285.00" stroke="#00ffff" fill="none" />
<polyline points="353.94,280.00 354.84,279.00 356.66,279.00 357.56,280.00 357.56,281.40 353.94,284.00 353.94,285.00 357.56,285.00" stroke="#00ffff" fill="none" />
<polyline points="359.38,284.00 359.38,280.00 360.28,279.00 362.09,279.00 363.00,280.00 363.00,284.00 362.09,285.00 360.28,285.00 359.38,284.00" stroke="#00ffff" fill="none" />
<g transform="translate(535,181) rotate(-90)">
<polyline points="0.00,-1.00 0.87,0.00 2.61,0.00 3.48,-1.00 3.48,-5.00 2.61,-6.00 0.87,-6.00 0.00,-5.00 0.00,-3.50 0.87,-2.50 3.48,-2.50" stroke="#00ffff" fill="none" />
<polyline points="5.22,-1.00 5.22,-5.00 6.09,-6.00 7.83,-6.00 8.70,-5.00 8.70,-1.00 7.83,0.00 6.09,0.00 5.22,-1.00" stroke="#00ffff" fill="none" />
</g>
<g transform="translate(535,227.5) rotate(-90)">
<polyline points="4.00,-6.00 0.00,-6.00 0.00,-3.50 3.00,-3.50 4.00,-2.50 4.00,-1.00 3.00,0.00 1.00,0.00 0.00,-1.00" stroke="#00ffff" fill="none" />
<polyline points="10.00,-6.00 6.00,-6.00 6.00,-3.50 9.00,-3.50 10.00,-2.50 10.00,-1.00 9.00,0.00 7.00,0.00 6.00,-1.00" stroke="#00ffff" fill="none" />
</g>
<polyline points="184.00,42.18 190.00,42.18 186.25,49.50" stroke="#00ff00" fill="none" />
<polyline points="181.00,52.50 193.70,52.50 291.00,167.80" fill="none" stroke="#00ff00" />
<polyline points="206.50,43.64 208.59,42.18 208.59,49.50" stroke="#00ff00" fill="none" />
<polyline points="218.00,42.18 212.03,42.18 212.03,45.23 216.51,45.23 218.00,46.45 218.00,48.28 216.51,49.50 213.52,49.50 212.03,48.28" stroke="#00ff00" fill="none" />
<polyline points="225.50,43.64 227.59,42.18 227.59,49.50" stroke="#00ff00" fill="none" />
<polyline points="235.51,49.50 235.51,42.18 231.03,47.06 237.00,47.06" stroke="#00ff00" fill="none" />
<polyline points="245.00,43.64 247.15,42.18 247.15,49.50" stroke="#00ff00" fill="none" />
<polyline points="250.67,43.40 252.20,42.18 255.27,42.18 256.80,43.40 256.80,44.62 255.27,45.84 252.97,45.84" stroke="#00ff00" fill="none" />
<polyline points="255.27,45.84 256.80,47.06 256.80,48.28 255.27,49.50 252.20,49.50 250.67,48.28" stroke="#00ff00" fill="none" />
<polyline points="204.00,53.50 219.80,53.50 221.30,55.00 222.80,53.50 239.60,53.50 241.10,55.00 242.60,53.50 258.60,53.50 298.00,149.80" fill="none" stroke="#00ff00" />
<polyline points="281.57,45.84 280.00,44.62 280.00,43.40 281.57,42.18 284.73,42.18 286.30,43.40 286.30,44.62 284.73,45.84 281.57,45.84 280.00,47.06 280.00,48.28 281.57,49.50 284.73,49.50 286.30,48.28 286.30,47.06 284.73,45.84" stroke="#00ff00" fill="none" />
<polyline points="277.00,52.50 289.60,52.50 351.80,108.50" fill="none" stroke="#00ff00" />
<polyline points="308.50,41.98 310.41,40.30 310.41,48.70" stroke="#00ff00" fill="none" />
<polyline points="313.55,41.70 314.91,40.30 317.64,40.30 319.00,41.70 319.00,43.66 313.55,47.30 313.55,48.70 319.00,48.70" stroke="#00ff00" fill="none" />
<polyline points="325.80,41.98 327.74,40.30 327.74,48.70" stroke="#00ff00" fill="none" />
<polyline points="330.94,41.98 332.88,40.30 332.88,48.70" stroke="#00ff00" fill="none" />
<polyline points="341.00,41.98 342.95,40.30 342.95,48.70" stroke="#00ff00" fill="none" />
<polyline points="346.14,47.30 346.14,41.70 347.53,40.30 350.31,40.30 351.70,41.70 351.70,47.30 350.31,48.70 347.53,48.70 346.14,47.30" stroke="#00ff00" fill="none" />
<polyline points="359.00,47.30 360.60,48.70 363.80,48.70 365.40,47.30 365.40,41.70 363.80,40.30 360.60,40.30 359.00,41.70 359.00,43.80 360.60,45.20 365.40,45.20" stroke="#00ff00" fill="none" />
<polyline points="307.50,50.50 320.10,50.50 321.60,52.00 323.10,50.50 335.80,50.50 337.30,52.00 338.80,50.50 351.80,50.50 353.30,52.00 354.80,50.50 367.80,50.50 376.60,66.90" fill="none" stroke="#00ff00" />
<polyline points="184.30,73.00 182.73,71.70 179.57,71.70 178.00,73.00 178.00,78.20 179.57,79.50 182.73,79.50 184.30,78.20 184.30,76.25 182.73,74.95 178.00,74.95" stroke="#00ff00" fill="none" />
<polyline points="175.00,82.50 188.00,82.50 258.60,153.60" fill="none" stroke="#00ff00" />
<polyline points="172.40,124.70 166.30,124.70 166.30,127.95 170.88,127.95 172.40,129.25 172.40,131.20 170.88,132.50 167.83,132.50 166.30,131.20" stroke="#00ff00" fill="none" />
<polyline points="186.22,132.50 186.22,124.70 182.40,129.90 187.50,129.90" stroke="#00ff00" fill="none" />
<polyline points="163.00,134.50 175.60,134.50 177.10,136.00 178.60,134.50 192.30,134.50 246.10,166.00" fill="none" stroke="#00ff00" />
<polyline points="158.50,148.44 160.25,146.70 160.25,155.40" stroke="#00ff00" fill="none" />
<polyline points="163.11,146.70 168.10,146.70 164.98,155.40" stroke="#00ff00" fill="none" />
<polyline points="175.50,148.44 177.57,146.70 177.57,155.40" stroke="#00ff00" fill="none" />
<polyline points="186.90,148.15 185.42,146.70 182.46,146.70 180.98,148.15 180.98,153.95 182.46,155.40 185.42,155.40 186.90,153.95 186.90,151.78 185.42,150.33 180.98,150.33" stroke="#00ff00" fill="none" />
<polyline points="157.00,157.50 170.20,157.50 171.70,159.00 173.20,157.50 189.50,157.50 285.60,203.40" fill="none" stroke="#00ff00" />
<polyline points="146.00,177.50 147.53,176.10 150.57,176.10 152.10,177.50 152.10,178.90 150.57,180.30 148.29,180.30" stroke="#00ff00" fill="none" />
<polyline points="150.57,180.30 152.10,181.70 152.10,183.10 150.57,184.50 147.53,184.50 146.00,183.10" stroke="#00ff00" fill="none" />
<polyline points="162.00,177.50 163.53,176.10 166.57,176.10 168.10,177.50 168.10,179.46 162.00,183.10 162.00,184.50 168.10,184.50" stroke="#00ff00" fill="none" />
<polyline points="179.00,177.78 181.80,176.10 181.80,184.50" stroke="#00ff00" fill="none" />
<polyline points="143.00,186.50 154.90,186.50 156.40,188.00 157.90,186.50 170.90,186.50 172.40,188.00 173.90,186.50 186.90,186.50 248.20,226.40" fill="none" stroke="#00ff00" />
</svg>
</body></html>
